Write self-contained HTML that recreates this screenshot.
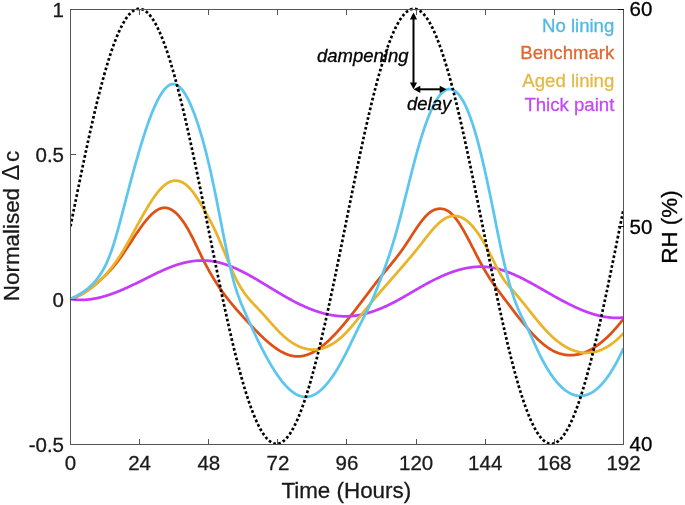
<!DOCTYPE html><html><head><meta charset="utf-8"><title>chart</title><style>
html,body{margin:0;padding:0;background:#fff}
#c{position:absolute;left:0;top:0;width:685px;height:505px;overflow:hidden;background:#fff;font-family:"Liberation Sans",sans-serif;color:#000;-webkit-text-stroke:0.3px currentColor;-webkit-font-smoothing:antialiased;will-change:transform}
.t{position:absolute;white-space:nowrap;line-height:1;font-size:20.5px;color:#1a1a1a}
.xt{transform:translateX(-50%);top:452.8px}
.yt{transform:translate(-100%,-50%);left:64px}
.rt{transform:translateY(-50%);left:629.5px;color:#000}
.lg{position:absolute;white-space:nowrap;line-height:1;font-size:18.6px;right:70.7px;text-align:right}
.an{position:absolute;white-space:nowrap;line-height:1;font-size:18.5px;font-style:italic;color:#000}
.al{position:absolute;white-space:nowrap;line-height:1;font-size:22.4px;color:#1a1a1a}
</style></head><body><div id="c">
<svg width="685" height="505" viewBox="0 0 685 505" style="position:absolute;left:0;top:0">
<defs><clipPath id="cp"><rect x="70.0" y="7.1" width="554.0" height="438.6"/></clipPath></defs>
<g clip-path="url(#cp)" fill="none" stroke-linejoin="round">
<path d="M70.50,299.00 L71.00,298.85 L71.50,298.69 L72.00,298.53 L72.50,298.35 L73.00,298.18 L73.50,297.99 L74.00,297.80 L74.50,297.61 L75.00,297.40 L75.50,297.19 L76.00,296.98 L76.50,296.76 L77.00,296.53 L77.50,296.30 L78.00,296.06 L78.50,295.82 L79.00,295.57 L79.50,295.31 L80.00,295.05 L80.50,294.78 L81.00,294.51 L81.50,294.23 L82.00,293.94 L82.50,293.65 L83.00,293.36 L83.50,293.06 L84.00,292.75 L84.50,292.44 L85.00,292.12 L85.50,291.80 L86.00,291.47 L86.50,291.14 L87.00,290.80 L87.50,290.46 L88.00,290.11 L88.50,289.76 L89.00,289.41 L89.50,289.04 L90.00,288.68 L90.50,288.31 L91.00,287.93 L91.50,287.55 L92.00,287.16 L92.50,286.77 L93.00,286.38 L93.50,285.98 L94.00,285.58 L94.50,285.17 L95.00,284.76 L95.50,284.34 L96.00,283.92 L96.50,283.50 L97.00,283.07 L97.50,282.63 L98.00,282.20 L98.50,281.76 L99.00,281.31 L99.50,280.86 L100.00,280.41 L100.50,279.95 L101.00,279.49 L101.50,279.03 L102.00,278.56 L102.50,278.09 L103.00,277.61 L103.50,277.13 L104.00,276.65 L104.50,276.17 L105.00,275.68 L105.50,275.18 L106.00,274.69 L106.50,274.18 L107.00,273.68 L107.50,273.17 L108.00,272.65 L108.50,272.13 L109.00,271.60 L109.50,271.07 L110.00,270.53 L110.50,269.99 L111.00,269.44 L111.50,268.88 L112.00,268.32 L112.50,267.75 L113.00,267.17 L113.50,266.59 L114.00,266.00 L114.50,265.40 L115.00,264.80 L115.50,264.19 L116.00,263.57 L116.50,262.94 L117.00,262.30 L117.50,261.65 L118.00,261.00 L118.50,260.34 L119.00,259.66 L119.50,258.98 L120.00,258.30 L120.50,257.60 L121.00,256.90 L121.50,256.19 L122.00,255.48 L122.50,254.76 L123.00,254.03 L123.50,253.30 L124.00,252.56 L124.50,251.82 L125.00,251.07 L125.50,250.33 L126.00,249.57 L126.50,248.82 L127.00,248.06 L127.50,247.30 L128.00,246.53 L128.50,245.77 L129.00,245.00 L129.50,244.23 L130.00,243.47 L130.50,242.70 L131.00,241.93 L131.50,241.16 L132.00,240.39 L132.50,239.63 L133.00,238.86 L133.50,238.10 L134.00,237.34 L134.50,236.58 L135.00,235.82 L135.50,235.07 L136.00,234.32 L136.50,233.58 L137.00,232.83 L137.50,232.10 L138.00,231.36 L138.50,230.63 L139.00,229.91 L139.50,229.19 L140.00,228.48 L140.50,227.78 L141.00,227.08 L141.50,226.39 L142.00,225.70 L142.50,225.03 L143.00,224.36 L143.50,223.70 L144.00,223.05 L144.50,222.41 L145.00,221.77 L145.50,221.15 L146.00,220.53 L146.50,219.93 L147.00,219.34 L147.50,218.75 L148.00,218.18 L148.50,217.62 L149.00,217.07 L149.50,216.54 L150.00,216.02 L150.50,215.50 L151.00,215.01 L151.50,214.52 L152.00,214.05 L152.50,213.60 L153.00,213.16 L153.50,212.73 L154.00,212.32 L154.50,211.92 L155.00,211.54 L155.50,211.18 L156.00,210.83 L156.50,210.50 L157.00,210.18 L157.50,209.89 L158.00,209.61 L158.50,209.35 L159.00,209.10 L159.50,208.88 L160.00,208.68 L160.50,208.49 L161.00,208.32 L161.50,208.18 L162.00,208.05 L162.50,207.95 L163.00,207.86 L163.50,207.80 L164.00,207.76 L164.50,207.74 L165.00,207.74 L165.50,207.77 L166.00,207.82 L166.50,207.88 L167.00,207.97 L167.50,208.09 L168.00,208.22 L168.50,208.37 L169.00,208.54 L169.50,208.74 L170.00,208.96 L170.50,209.19 L171.00,209.45 L171.50,209.72 L172.00,210.02 L172.50,210.34 L173.00,210.67 L173.50,211.03 L174.00,211.41 L174.50,211.80 L175.00,212.21 L175.50,212.65 L176.00,213.10 L176.50,213.57 L177.00,214.06 L177.50,214.57 L178.00,215.09 L178.50,215.64 L179.00,216.20 L179.50,216.78 L180.00,217.38 L180.50,218.00 L181.00,218.63 L181.50,219.28 L182.00,219.95 L182.50,220.64 L183.00,221.34 L183.50,222.06 L184.00,222.80 L184.50,223.55 L185.00,224.32 L185.50,225.10 L186.00,225.91 L186.50,226.72 L187.00,227.56 L187.50,228.41 L188.00,229.27 L188.50,230.15 L189.00,231.05 L189.50,231.96 L190.00,232.89 L190.50,233.83 L191.00,234.78 L191.50,235.75 L192.00,236.72 L192.50,237.71 L193.00,238.71 L193.50,239.72 L194.00,240.73 L194.50,241.75 L195.00,242.78 L195.50,243.81 L196.00,244.85 L196.50,245.89 L197.00,246.93 L197.50,247.98 L198.00,249.02 L198.50,250.07 L199.00,251.11 L199.50,252.16 L200.00,253.20 L200.50,254.23 L201.00,255.27 L201.50,256.29 L202.00,257.31 L202.50,258.33 L203.00,259.33 L203.50,260.33 L204.00,261.31 L204.50,262.29 L205.00,263.26 L205.50,264.22 L206.00,265.17 L206.50,266.11 L207.00,267.04 L207.50,267.96 L208.00,268.88 L208.50,269.78 L209.00,270.68 L209.50,271.57 L210.00,272.45 L210.50,273.32 L211.00,274.18 L211.50,275.04 L212.00,275.88 L212.50,276.72 L213.00,277.55 L213.50,278.37 L214.00,279.19 L214.50,279.99 L215.00,280.79 L215.50,281.58 L216.00,282.37 L216.50,283.14 L217.00,283.91 L217.50,284.67 L218.00,285.43 L218.50,286.18 L219.00,286.92 L219.50,287.65 L220.00,288.38 L220.50,289.10 L221.00,289.82 L221.50,290.53 L222.00,291.23 L222.50,291.93 L223.00,292.62 L223.50,293.30 L224.00,293.98 L224.50,294.66 L225.00,295.32 L225.50,295.99 L226.00,296.65 L226.50,297.30 L227.00,297.95 L227.50,298.59 L228.00,299.23 L228.50,299.87 L229.00,300.49 L229.50,301.12 L230.00,301.74 L230.50,302.36 L231.00,302.97 L231.50,303.58 L232.00,304.18 L232.50,304.79 L233.00,305.38 L233.50,305.98 L234.00,306.57 L234.50,307.15 L235.00,307.74 L235.50,308.32 L236.00,308.90 L236.50,309.47 L237.00,310.05 L237.50,310.62 L238.00,311.18 L238.50,311.75 L239.00,312.31 L239.50,312.87 L240.00,313.43 L240.50,313.99 L241.00,314.54 L241.50,315.10 L242.00,315.65 L242.50,316.20 L243.00,316.75 L243.50,317.30 L244.00,317.84 L244.50,318.39 L245.00,318.93 L245.50,319.48 L246.00,320.02 L246.50,320.56 L247.00,321.10 L247.50,321.64 L248.00,322.18 L248.50,322.72 L249.00,323.26 L249.50,323.80 L250.00,324.33 L250.50,324.87 L251.00,325.40 L251.50,325.93 L252.00,326.46 L252.50,326.99 L253.00,327.52 L253.50,328.05 L254.00,328.57 L254.50,329.09 L255.00,329.61 L255.50,330.13 L256.00,330.64 L256.50,331.15 L257.00,331.66 L257.50,332.17 L258.00,332.68 L258.50,333.18 L259.00,333.68 L259.50,334.17 L260.00,334.67 L260.50,335.16 L261.00,335.64 L261.50,336.13 L262.00,336.61 L262.50,337.08 L263.00,337.56 L263.50,338.03 L264.00,338.49 L264.50,338.96 L265.00,339.41 L265.50,339.87 L266.00,340.32 L266.50,340.76 L267.00,341.21 L267.50,341.64 L268.00,342.08 L268.50,342.50 L269.00,342.93 L269.50,343.35 L270.00,343.76 L270.50,344.17 L271.00,344.57 L271.50,344.97 L272.00,345.37 L272.50,345.76 L273.00,346.14 L273.50,346.52 L274.00,346.89 L274.50,347.26 L275.00,347.62 L275.50,347.97 L276.00,348.32 L276.50,348.66 L277.00,349.00 L277.50,349.33 L278.00,349.66 L278.50,349.97 L279.00,350.29 L279.50,350.59 L280.00,350.89 L280.50,351.18 L281.00,351.47 L281.50,351.74 L282.00,352.02 L282.50,352.28 L283.00,352.54 L283.50,352.79 L284.00,353.03 L284.50,353.26 L285.00,353.49 L285.50,353.71 L286.00,353.92 L286.50,354.12 L287.00,354.32 L287.50,354.51 L288.00,354.69 L288.50,354.86 L289.00,355.02 L289.50,355.18 L290.00,355.32 L290.50,355.46 L291.00,355.59 L291.50,355.71 L292.00,355.82 L292.50,355.93 L293.00,356.02 L293.50,356.11 L294.00,356.18 L294.50,356.25 L295.00,356.30 L295.50,356.35 L296.00,356.39 L296.50,356.42 L297.00,356.44 L297.50,356.44 L298.00,356.44 L298.50,356.43 L299.00,356.41 L299.50,356.38 L300.00,356.34 L300.50,356.29 L301.00,356.24 L301.50,356.17 L302.00,356.09 L302.50,356.00 L303.00,355.91 L303.50,355.81 L304.00,355.69 L304.50,355.57 L305.00,355.44 L305.50,355.30 L306.00,355.15 L306.50,355.00 L307.00,354.83 L307.50,354.66 L308.00,354.48 L308.50,354.28 L309.00,354.09 L309.50,353.88 L310.00,353.67 L310.50,353.44 L311.00,353.21 L311.50,352.97 L312.00,352.73 L312.50,352.47 L313.00,352.21 L313.50,351.94 L314.00,351.67 L314.50,351.38 L315.00,351.09 L315.50,350.79 L316.00,350.49 L316.50,350.17 L317.00,349.85 L317.50,349.53 L318.00,349.19 L318.50,348.85 L319.00,348.51 L319.50,348.15 L320.00,347.79 L320.50,347.42 L321.00,347.05 L321.50,346.67 L322.00,346.28 L322.50,345.89 L323.00,345.49 L323.50,345.08 L324.00,344.67 L324.50,344.26 L325.00,343.83 L325.50,343.40 L326.00,342.97 L326.50,342.53 L327.00,342.08 L327.50,341.63 L328.00,341.17 L328.50,340.71 L329.00,340.24 L329.50,339.77 L330.00,339.29 L330.50,338.81 L331.00,338.32 L331.50,337.82 L332.00,337.33 L332.50,336.82 L333.00,336.31 L333.50,335.80 L334.00,335.28 L334.50,334.76 L335.00,334.24 L335.50,333.71 L336.00,333.17 L336.50,332.63 L337.00,332.09 L337.50,331.54 L338.00,330.99 L338.50,330.43 L339.00,329.87 L339.50,329.31 L340.00,328.74 L340.50,328.17 L341.00,327.60 L341.50,327.02 L342.00,326.44 L342.50,325.85 L343.00,325.26 L343.50,324.67 L344.00,324.08 L344.50,323.48 L345.00,322.88 L345.50,322.27 L346.00,321.67 L346.50,321.06 L347.00,320.44 L347.50,319.83 L348.00,319.21 L348.50,318.59 L349.00,317.97 L349.50,317.34 L350.00,316.72 L350.50,316.09 L351.00,315.46 L351.50,314.82 L352.00,314.19 L352.50,313.55 L353.00,312.91 L353.50,312.27 L354.00,311.62 L354.50,310.98 L355.00,310.33 L355.50,309.69 L356.00,309.04 L356.50,308.39 L357.00,307.73 L357.50,307.08 L358.00,306.43 L358.50,305.77 L359.00,305.12 L359.50,304.46 L360.00,303.80 L360.50,303.14 L361.00,302.49 L361.50,301.83 L362.00,301.17 L362.50,300.51 L363.00,299.85 L363.50,299.18 L364.00,298.52 L364.50,297.86 L365.00,297.20 L365.50,296.54 L366.00,295.88 L366.50,295.22 L367.00,294.56 L367.50,293.90 L368.00,293.24 L368.50,292.58 L369.00,291.92 L369.50,291.26 L370.00,290.61 L370.50,289.95 L371.00,289.29 L371.50,288.64 L372.00,287.99 L372.50,287.33 L373.00,286.68 L373.50,286.03 L374.00,285.38 L374.50,284.74 L375.00,284.09 L375.50,283.45 L376.00,282.80 L376.50,282.16 L377.00,281.53 L377.50,280.89 L378.00,280.25 L378.50,279.62 L379.00,278.99 L379.50,278.36 L380.00,277.73 L380.50,277.11 L381.00,276.49 L381.50,275.87 L382.00,275.25 L382.50,274.64 L383.00,274.02 L383.50,273.41 L384.00,272.80 L384.50,272.20 L385.00,271.59 L385.50,270.98 L386.00,270.37 L386.50,269.77 L387.00,269.16 L387.50,268.56 L388.00,267.95 L388.50,267.35 L389.00,266.74 L389.50,266.13 L390.00,265.52 L390.50,264.91 L391.00,264.30 L391.50,263.69 L392.00,263.08 L392.50,262.46 L393.00,261.84 L393.50,261.22 L394.00,260.59 L394.50,259.97 L395.00,259.34 L395.50,258.70 L396.00,258.07 L396.50,257.43 L397.00,256.78 L397.50,256.13 L398.00,255.48 L398.50,254.82 L399.00,254.16 L399.50,253.49 L400.00,252.82 L400.50,252.14 L401.00,251.46 L401.50,250.77 L402.00,250.08 L402.50,249.38 L403.00,248.67 L403.50,247.95 L404.00,247.23 L404.50,246.50 L405.00,245.77 L405.50,245.03 L406.00,244.28 L406.50,243.53 L407.00,242.77 L407.50,242.01 L408.00,241.25 L408.50,240.48 L409.00,239.71 L409.50,238.94 L410.00,238.17 L410.50,237.39 L411.00,236.62 L411.50,235.85 L412.00,235.07 L412.50,234.30 L413.00,233.53 L413.50,232.77 L414.00,232.00 L414.50,231.24 L415.00,230.48 L415.50,229.73 L416.00,228.99 L416.50,228.24 L417.00,227.51 L417.50,226.78 L418.00,226.06 L418.50,225.35 L419.00,224.64 L419.50,223.95 L420.00,223.26 L420.50,222.59 L421.00,221.92 L421.50,221.27 L422.00,220.62 L422.50,219.99 L423.00,219.38 L423.50,218.77 L424.00,218.18 L424.50,217.60 L425.00,217.04 L425.50,216.50 L426.00,215.97 L426.50,215.45 L427.00,214.96 L427.50,214.48 L428.00,214.02 L428.50,213.58 L429.00,213.15 L429.50,212.75 L430.00,212.37 L430.50,212.01 L431.00,211.67 L431.50,211.34 L432.00,211.04 L432.50,210.76 L433.00,210.49 L433.50,210.25 L434.00,210.02 L434.50,209.82 L435.00,209.63 L435.50,209.46 L436.00,209.31 L436.50,209.17 L437.00,209.06 L437.50,208.96 L438.00,208.88 L438.50,208.81 L439.00,208.77 L439.50,208.74 L440.00,208.72 L440.50,208.73 L441.00,208.75 L441.50,208.78 L442.00,208.84 L442.50,208.92 L443.00,209.01 L443.50,209.12 L444.00,209.25 L444.50,209.40 L445.00,209.57 L445.50,209.76 L446.00,209.97 L446.50,210.21 L447.00,210.46 L447.50,210.73 L448.00,211.03 L448.50,211.34 L449.00,211.68 L449.50,212.04 L450.00,212.43 L450.50,212.84 L451.00,213.27 L451.50,213.72 L452.00,214.20 L452.50,214.70 L453.00,215.22 L453.50,215.77 L454.00,216.33 L454.50,216.92 L455.00,217.53 L455.50,218.15 L456.00,218.80 L456.50,219.46 L457.00,220.14 L457.50,220.84 L458.00,221.55 L458.50,222.29 L459.00,223.03 L459.50,223.80 L460.00,224.57 L460.50,225.37 L461.00,226.17 L461.50,226.99 L462.00,227.82 L462.50,228.66 L463.00,229.52 L463.50,230.39 L464.00,231.26 L464.50,232.15 L465.00,233.05 L465.50,233.95 L466.00,234.86 L466.50,235.79 L467.00,236.72 L467.50,237.65 L468.00,238.59 L468.50,239.54 L469.00,240.50 L469.50,241.45 L470.00,242.42 L470.50,243.38 L471.00,244.35 L471.50,245.32 L472.00,246.30 L472.50,247.27 L473.00,248.25 L473.50,249.23 L474.00,250.21 L474.50,251.18 L475.00,252.16 L475.50,253.13 L476.00,254.11 L476.50,255.08 L477.00,256.04 L477.50,257.01 L478.00,257.96 L478.50,258.92 L479.00,259.87 L479.50,260.81 L480.00,261.75 L480.50,262.68 L481.00,263.60 L481.50,264.52 L482.00,265.42 L482.50,266.32 L483.00,267.21 L483.50,268.09 L484.00,268.95 L484.50,269.81 L485.00,270.66 L485.50,271.50 L486.00,272.33 L486.50,273.16 L487.00,273.97 L487.50,274.78 L488.00,275.57 L488.50,276.36 L489.00,277.15 L489.50,277.92 L490.00,278.69 L490.50,279.45 L491.00,280.20 L491.50,280.95 L492.00,281.69 L492.50,282.43 L493.00,283.16 L493.50,283.88 L494.00,284.60 L494.50,285.32 L495.00,286.02 L495.50,286.73 L496.00,287.43 L496.50,288.13 L497.00,288.82 L497.50,289.51 L498.00,290.19 L498.50,290.87 L499.00,291.55 L499.50,292.23 L500.00,292.90 L500.50,293.57 L501.00,294.24 L501.50,294.91 L502.00,295.58 L502.50,296.24 L503.00,296.90 L503.50,297.57 L504.00,298.23 L504.50,298.89 L505.00,299.55 L505.50,300.21 L506.00,300.87 L506.50,301.53 L507.00,302.20 L507.50,302.86 L508.00,303.52 L508.50,304.18 L509.00,304.84 L509.50,305.50 L510.00,306.16 L510.50,306.82 L511.00,307.48 L511.50,308.14 L512.00,308.80 L512.50,309.46 L513.00,310.11 L513.50,310.77 L514.00,311.42 L514.50,312.07 L515.00,312.72 L515.50,313.37 L516.00,314.02 L516.50,314.66 L517.00,315.31 L517.50,315.95 L518.00,316.59 L518.50,317.23 L519.00,317.86 L519.50,318.50 L520.00,319.13 L520.50,319.75 L521.00,320.38 L521.50,321.00 L522.00,321.62 L522.50,322.24 L523.00,322.86 L523.50,323.47 L524.00,324.08 L524.50,324.68 L525.00,325.28 L525.50,325.88 L526.00,326.48 L526.50,327.07 L527.00,327.66 L527.50,328.24 L528.00,328.82 L528.50,329.39 L529.00,329.97 L529.50,330.53 L530.00,331.10 L530.50,331.66 L531.00,332.21 L531.50,332.76 L532.00,333.30 L532.50,333.84 L533.00,334.38 L533.50,334.91 L534.00,335.44 L534.50,335.96 L535.00,336.47 L535.50,336.98 L536.00,337.48 L536.50,337.98 L537.00,338.47 L537.50,338.96 L538.00,339.44 L538.50,339.92 L539.00,340.39 L539.50,340.85 L540.00,341.31 L540.50,341.76 L541.00,342.20 L541.50,342.64 L542.00,343.07 L542.50,343.49 L543.00,343.91 L543.50,344.32 L544.00,344.73 L544.50,345.12 L545.00,345.51 L545.50,345.89 L546.00,346.27 L546.50,346.64 L547.00,346.99 L547.50,347.35 L548.00,347.69 L548.50,348.03 L549.00,348.36 L549.50,348.68 L550.00,348.99 L550.50,349.29 L551.00,349.59 L551.50,349.88 L552.00,350.16 L552.50,350.43 L553.00,350.70 L553.50,350.95 L554.00,351.20 L554.50,351.45 L555.00,351.68 L555.50,351.91 L556.00,352.13 L556.50,352.34 L557.00,352.54 L557.50,352.74 L558.00,352.92 L558.50,353.10 L559.00,353.28 L559.50,353.44 L560.00,353.60 L560.50,353.75 L561.00,353.89 L561.50,354.03 L562.00,354.16 L562.50,354.28 L563.00,354.39 L563.50,354.50 L564.00,354.59 L564.50,354.69 L565.00,354.77 L565.50,354.84 L566.00,354.91 L566.50,354.97 L567.00,355.03 L567.50,355.08 L568.00,355.12 L568.50,355.15 L569.00,355.17 L569.50,355.19 L570.00,355.20 L570.50,355.21 L571.00,355.20 L571.50,355.19 L572.00,355.17 L572.50,355.15 L573.00,355.12 L573.50,355.08 L574.00,355.03 L574.50,354.98 L575.00,354.92 L575.50,354.85 L576.00,354.78 L576.50,354.70 L577.00,354.61 L577.50,354.52 L578.00,354.41 L578.50,354.31 L579.00,354.19 L579.50,354.07 L580.00,353.94 L580.50,353.81 L581.00,353.66 L581.50,353.51 L582.00,353.36 L582.50,353.20 L583.00,353.03 L583.50,352.85 L584.00,352.67 L584.50,352.48 L585.00,352.28 L585.50,352.08 L586.00,351.87 L586.50,351.66 L587.00,351.43 L587.50,351.21 L588.00,350.97 L588.50,350.73 L589.00,350.48 L589.50,350.23 L590.00,349.97 L590.50,349.70 L591.00,349.43 L591.50,349.15 L592.00,348.86 L592.50,348.57 L593.00,348.27 L593.50,347.96 L594.00,347.65 L594.50,347.33 L595.00,347.01 L595.50,346.68 L596.00,346.34 L596.50,346.00 L597.00,345.65 L597.50,345.30 L598.00,344.93 L598.50,344.57 L599.00,344.19 L599.50,343.81 L600.00,343.43 L600.50,343.04 L601.00,342.64 L601.50,342.24 L602.00,341.83 L602.50,341.41 L603.00,340.99 L603.50,340.56 L604.00,340.13 L604.50,339.69 L605.00,339.25 L605.50,338.80 L606.00,338.34 L606.50,337.88 L607.00,337.41 L607.50,336.93 L608.00,336.45 L608.50,335.97 L609.00,335.48 L609.50,334.98 L610.00,334.48 L610.50,333.97 L611.00,333.46 L611.50,332.94 L612.00,332.41 L612.50,331.88 L613.00,331.35 L613.50,330.80 L614.00,330.26 L614.50,329.70 L615.00,329.14 L615.50,328.58 L616.00,328.01 L616.50,327.44 L617.00,326.86 L617.50,326.27 L618.00,325.68 L618.50,325.08 L619.00,324.48 L619.50,323.88 L620.00,323.26 L620.50,322.65 L621.00,322.02 L621.50,321.40 L622.00,320.76 L622.50,320.12 L623.00,319.48 L623.50,318.83" stroke="#DE5016" stroke-width="2.75"/>
<path d="M70.50,298.98 L71.00,299.07 L71.50,299.15 L72.00,299.22 L72.50,299.30 L73.00,299.36 L73.50,299.43 L74.00,299.49 L74.50,299.54 L75.00,299.59 L75.50,299.64 L76.00,299.68 L76.50,299.72 L77.00,299.76 L77.50,299.79 L78.00,299.81 L78.50,299.84 L79.00,299.86 L79.50,299.87 L80.00,299.88 L80.50,299.89 L81.00,299.89 L81.50,299.89 L82.00,299.89 L82.50,299.88 L83.00,299.87 L83.50,299.85 L84.00,299.83 L84.50,299.81 L85.00,299.78 L85.50,299.75 L86.00,299.72 L86.50,299.68 L87.00,299.64 L87.50,299.60 L88.00,299.55 L88.50,299.50 L89.00,299.45 L89.50,299.39 L90.00,299.33 L90.50,299.27 L91.00,299.20 L91.50,299.13 L92.00,299.05 L92.50,298.98 L93.00,298.90 L93.50,298.81 L94.00,298.73 L94.50,298.64 L95.00,298.55 L95.50,298.45 L96.00,298.35 L96.50,298.25 L97.00,298.15 L97.50,298.04 L98.00,297.93 L98.50,297.82 L99.00,297.70 L99.50,297.58 L100.00,297.46 L100.50,297.34 L101.00,297.21 L101.50,297.09 L102.00,296.95 L102.50,296.82 L103.00,296.68 L103.50,296.54 L104.00,296.40 L104.50,296.26 L105.00,296.11 L105.50,295.96 L106.00,295.81 L106.50,295.66 L107.00,295.50 L107.50,295.34 L108.00,295.18 L108.50,295.02 L109.00,294.85 L109.50,294.68 L110.00,294.51 L110.50,294.34 L111.00,294.17 L111.50,293.99 L112.00,293.81 L112.50,293.63 L113.00,293.45 L113.50,293.27 L114.00,293.08 L114.50,292.89 L115.00,292.70 L115.50,292.51 L116.00,292.32 L116.50,292.12 L117.00,291.93 L117.50,291.73 L118.00,291.53 L118.50,291.32 L119.00,291.12 L119.50,290.92 L120.00,290.71 L120.50,290.50 L121.00,290.29 L121.50,290.08 L122.00,289.86 L122.50,289.65 L123.00,289.43 L123.50,289.22 L124.00,289.00 L124.50,288.78 L125.00,288.56 L125.50,288.33 L126.00,288.11 L126.50,287.88 L127.00,287.66 L127.50,287.43 L128.00,287.20 L128.50,286.97 L129.00,286.74 L129.50,286.51 L130.00,286.27 L130.50,286.04 L131.00,285.80 L131.50,285.57 L132.00,285.33 L132.50,285.09 L133.00,284.85 L133.50,284.62 L134.00,284.38 L134.50,284.13 L135.00,283.89 L135.50,283.65 L136.00,283.41 L136.50,283.16 L137.00,282.92 L137.50,282.67 L138.00,282.43 L138.50,282.18 L139.00,281.93 L139.50,281.69 L140.00,281.44 L140.50,281.19 L141.00,280.94 L141.50,280.69 L142.00,280.44 L142.50,280.20 L143.00,279.95 L143.50,279.70 L144.00,279.45 L144.50,279.20 L145.00,278.95 L145.50,278.70 L146.00,278.45 L146.50,278.20 L147.00,277.95 L147.50,277.70 L148.00,277.45 L148.50,277.20 L149.00,276.95 L149.50,276.70 L150.00,276.45 L150.50,276.21 L151.00,275.96 L151.50,275.71 L152.00,275.47 L152.50,275.22 L153.00,274.98 L153.50,274.73 L154.00,274.49 L154.50,274.25 L155.00,274.01 L155.50,273.77 L156.00,273.53 L156.50,273.29 L157.00,273.05 L157.50,272.81 L158.00,272.58 L158.50,272.34 L159.00,272.11 L159.50,271.87 L160.00,271.64 L160.50,271.41 L161.00,271.18 L161.50,270.96 L162.00,270.73 L162.50,270.51 L163.00,270.28 L163.50,270.06 L164.00,269.84 L164.50,269.62 L165.00,269.41 L165.50,269.19 L166.00,268.98 L166.50,268.77 L167.00,268.56 L167.50,268.35 L168.00,268.14 L168.50,267.94 L169.00,267.74 L169.50,267.54 L170.00,267.34 L170.50,267.15 L171.00,266.95 L171.50,266.76 L172.00,266.57 L172.50,266.38 L173.00,266.20 L173.50,266.02 L174.00,265.84 L174.50,265.66 L175.00,265.49 L175.50,265.31 L176.00,265.14 L176.50,264.98 L177.00,264.81 L177.50,264.65 L178.00,264.49 L178.50,264.34 L179.00,264.18 L179.50,264.03 L180.00,263.88 L180.50,263.74 L181.00,263.60 L181.50,263.46 L182.00,263.32 L182.50,263.19 L183.00,263.06 L183.50,262.94 L184.00,262.81 L184.50,262.69 L185.00,262.57 L185.50,262.46 L186.00,262.35 L186.50,262.24 L187.00,262.14 L187.50,262.03 L188.00,261.94 L188.50,261.84 L189.00,261.75 L189.50,261.66 L190.00,261.57 L190.50,261.49 L191.00,261.41 L191.50,261.33 L192.00,261.26 L192.50,261.19 L193.00,261.13 L193.50,261.06 L194.00,261.00 L194.50,260.95 L195.00,260.89 L195.50,260.84 L196.00,260.80 L196.50,260.75 L197.00,260.71 L197.50,260.68 L198.00,260.65 L198.50,260.62 L199.00,260.59 L199.50,260.57 L200.00,260.55 L200.50,260.53 L201.00,260.52 L201.50,260.51 L202.00,260.51 L202.50,260.51 L203.00,260.51 L203.50,260.52 L204.00,260.53 L204.50,260.54 L205.00,260.55 L205.50,260.57 L206.00,260.60 L206.50,260.63 L207.00,260.66 L207.50,260.69 L208.00,260.73 L208.50,260.77 L209.00,260.82 L209.50,260.87 L210.00,260.92 L210.50,260.98 L211.00,261.04 L211.50,261.10 L212.00,261.17 L212.50,261.25 L213.00,261.32 L213.50,261.40 L214.00,261.48 L214.50,261.57 L215.00,261.66 L215.50,261.76 L216.00,261.86 L216.50,261.96 L217.00,262.07 L217.50,262.18 L218.00,262.29 L218.50,262.41 L219.00,262.53 L219.50,262.66 L220.00,262.79 L220.50,262.92 L221.00,263.05 L221.50,263.19 L222.00,263.34 L222.50,263.48 L223.00,263.63 L223.50,263.78 L224.00,263.94 L224.50,264.10 L225.00,264.26 L225.50,264.43 L226.00,264.60 L226.50,264.77 L227.00,264.94 L227.50,265.12 L228.00,265.30 L228.50,265.49 L229.00,265.67 L229.50,265.86 L230.00,266.05 L230.50,266.25 L231.00,266.45 L231.50,266.65 L232.00,266.85 L232.50,267.06 L233.00,267.27 L233.50,267.48 L234.00,267.69 L234.50,267.91 L235.00,268.13 L235.50,268.35 L236.00,268.57 L236.50,268.80 L237.00,269.03 L237.50,269.26 L238.00,269.49 L238.50,269.73 L239.00,269.97 L239.50,270.21 L240.00,270.45 L240.50,270.69 L241.00,270.94 L241.50,271.19 L242.00,271.44 L242.50,271.69 L243.00,271.94 L243.50,272.20 L244.00,272.46 L244.50,272.71 L245.00,272.98 L245.50,273.24 L246.00,273.50 L246.50,273.77 L247.00,274.04 L247.50,274.31 L248.00,274.58 L248.50,274.85 L249.00,275.13 L249.50,275.40 L250.00,275.68 L250.50,275.96 L251.00,276.24 L251.50,276.52 L252.00,276.80 L252.50,277.08 L253.00,277.37 L253.50,277.65 L254.00,277.94 L254.50,278.23 L255.00,278.52 L255.50,278.81 L256.00,279.10 L256.50,279.39 L257.00,279.69 L257.50,279.98 L258.00,280.28 L258.50,280.57 L259.00,280.87 L259.50,281.16 L260.00,281.46 L260.50,281.76 L261.00,282.06 L261.50,282.36 L262.00,282.66 L262.50,282.96 L263.00,283.26 L263.50,283.56 L264.00,283.87 L264.50,284.17 L265.00,284.47 L265.50,284.78 L266.00,285.08 L266.50,285.38 L267.00,285.69 L267.50,285.99 L268.00,286.29 L268.50,286.60 L269.00,286.90 L269.50,287.21 L270.00,287.51 L270.50,287.82 L271.00,288.12 L271.50,288.43 L272.00,288.73 L272.50,289.03 L273.00,289.34 L273.50,289.64 L274.00,289.94 L274.50,290.25 L275.00,290.55 L275.50,290.85 L276.00,291.15 L276.50,291.45 L277.00,291.75 L277.50,292.05 L278.00,292.35 L278.50,292.65 L279.00,292.95 L279.50,293.25 L280.00,293.54 L280.50,293.84 L281.00,294.13 L281.50,294.43 L282.00,294.72 L282.50,295.01 L283.00,295.30 L283.50,295.59 L284.00,295.88 L284.50,296.17 L285.00,296.46 L285.50,296.75 L286.00,297.03 L286.50,297.31 L287.00,297.60 L287.50,297.88 L288.00,298.16 L288.50,298.44 L289.00,298.71 L289.50,298.99 L290.00,299.27 L290.50,299.54 L291.00,299.81 L291.50,300.08 L292.00,300.35 L292.50,300.61 L293.00,300.88 L293.50,301.14 L294.00,301.41 L294.50,301.67 L295.00,301.92 L295.50,302.18 L296.00,302.44 L296.50,302.69 L297.00,302.94 L297.50,303.19 L298.00,303.44 L298.50,303.69 L299.00,303.93 L299.50,304.17 L300.00,304.41 L300.50,304.65 L301.00,304.89 L301.50,305.12 L302.00,305.36 L302.50,305.59 L303.00,305.82 L303.50,306.05 L304.00,306.27 L304.50,306.50 L305.00,306.72 L305.50,306.94 L306.00,307.15 L306.50,307.37 L307.00,307.58 L307.50,307.79 L308.00,308.00 L308.50,308.21 L309.00,308.41 L309.50,308.62 L310.00,308.82 L310.50,309.01 L311.00,309.21 L311.50,309.40 L312.00,309.59 L312.50,309.78 L313.00,309.97 L313.50,310.16 L314.00,310.34 L314.50,310.52 L315.00,310.69 L315.50,310.87 L316.00,311.04 L316.50,311.21 L317.00,311.38 L317.50,311.55 L318.00,311.71 L318.50,311.87 L319.00,312.03 L319.50,312.18 L320.00,312.33 L320.50,312.48 L321.00,312.63 L321.50,312.78 L322.00,312.92 L322.50,313.06 L323.00,313.20 L323.50,313.33 L324.00,313.46 L324.50,313.59 L325.00,313.72 L325.50,313.84 L326.00,313.96 L326.50,314.08 L327.00,314.20 L327.50,314.31 L328.00,314.42 L328.50,314.53 L329.00,314.63 L329.50,314.73 L330.00,314.83 L330.50,314.92 L331.00,315.02 L331.50,315.11 L332.00,315.19 L332.50,315.28 L333.00,315.36 L333.50,315.44 L334.00,315.51 L334.50,315.58 L335.00,315.65 L335.50,315.72 L336.00,315.78 L336.50,315.84 L337.00,315.89 L337.50,315.95 L338.00,316.00 L338.50,316.04 L339.00,316.09 L339.50,316.13 L340.00,316.16 L340.50,316.20 L341.00,316.23 L341.50,316.25 L342.00,316.28 L342.50,316.30 L343.00,316.32 L343.50,316.33 L344.00,316.34 L344.50,316.35 L345.00,316.35 L345.50,316.35 L346.00,316.35 L346.50,316.34 L347.00,316.33 L347.50,316.32 L348.00,316.30 L348.50,316.28 L349.00,316.26 L349.50,316.23 L350.00,316.20 L350.50,316.16 L351.00,316.13 L351.50,316.09 L352.00,316.04 L352.50,315.99 L353.00,315.94 L353.50,315.89 L354.00,315.83 L354.50,315.77 L355.00,315.71 L355.50,315.64 L356.00,315.57 L356.50,315.49 L357.00,315.42 L357.50,315.34 L358.00,315.25 L358.50,315.17 L359.00,315.08 L359.50,314.98 L360.00,314.89 L360.50,314.79 L361.00,314.69 L361.50,314.58 L362.00,314.48 L362.50,314.37 L363.00,314.25 L363.50,314.14 L364.00,314.02 L364.50,313.89 L365.00,313.77 L365.50,313.64 L366.00,313.51 L366.50,313.38 L367.00,313.24 L367.50,313.10 L368.00,312.96 L368.50,312.81 L369.00,312.67 L369.50,312.52 L370.00,312.36 L370.50,312.21 L371.00,312.05 L371.50,311.89 L372.00,311.73 L372.50,311.56 L373.00,311.39 L373.50,311.22 L374.00,311.05 L374.50,310.87 L375.00,310.69 L375.50,310.51 L376.00,310.33 L376.50,310.14 L377.00,309.95 L377.50,309.76 L378.00,309.57 L378.50,309.37 L379.00,309.18 L379.50,308.98 L380.00,308.77 L380.50,308.57 L381.00,308.36 L381.50,308.15 L382.00,307.94 L382.50,307.73 L383.00,307.51 L383.50,307.29 L384.00,307.07 L384.50,306.85 L385.00,306.63 L385.50,306.40 L386.00,306.17 L386.50,305.94 L387.00,305.71 L387.50,305.48 L388.00,305.24 L388.50,305.00 L389.00,304.76 L389.50,304.52 L390.00,304.27 L390.50,304.03 L391.00,303.78 L391.50,303.53 L392.00,303.28 L392.50,303.02 L393.00,302.77 L393.50,302.51 L394.00,302.25 L394.50,301.99 L395.00,301.73 L395.50,301.46 L396.00,301.20 L396.50,300.93 L397.00,300.66 L397.50,300.39 L398.00,300.12 L398.50,299.84 L399.00,299.57 L399.50,299.29 L400.00,299.02 L400.50,298.74 L401.00,298.46 L401.50,298.18 L402.00,297.90 L402.50,297.62 L403.00,297.33 L403.50,297.05 L404.00,296.76 L404.50,296.48 L405.00,296.19 L405.50,295.90 L406.00,295.62 L406.50,295.33 L407.00,295.04 L407.50,294.75 L408.00,294.46 L408.50,294.17 L409.00,293.88 L409.50,293.59 L410.00,293.30 L410.50,293.00 L411.00,292.71 L411.50,292.42 L412.00,292.13 L412.50,291.84 L413.00,291.54 L413.50,291.25 L414.00,290.96 L414.50,290.67 L415.00,290.37 L415.50,290.08 L416.00,289.79 L416.50,289.50 L417.00,289.21 L417.50,288.92 L418.00,288.63 L418.50,288.34 L419.00,288.05 L419.50,287.76 L420.00,287.48 L420.50,287.19 L421.00,286.90 L421.50,286.62 L422.00,286.33 L422.50,286.05 L423.00,285.77 L423.50,285.48 L424.00,285.20 L424.50,284.92 L425.00,284.64 L425.50,284.37 L426.00,284.09 L426.50,283.82 L427.00,283.54 L427.50,283.27 L428.00,283.00 L428.50,282.73 L429.00,282.46 L429.50,282.19 L430.00,281.93 L430.50,281.66 L431.00,281.40 L431.50,281.14 L432.00,280.88 L432.50,280.62 L433.00,280.37 L433.50,280.12 L434.00,279.86 L434.50,279.61 L435.00,279.36 L435.50,279.12 L436.00,278.87 L436.50,278.63 L437.00,278.39 L437.50,278.15 L438.00,277.91 L438.50,277.67 L439.00,277.44 L439.50,277.21 L440.00,276.98 L440.50,276.75 L441.00,276.52 L441.50,276.30 L442.00,276.08 L442.50,275.86 L443.00,275.64 L443.50,275.42 L444.00,275.21 L444.50,275.00 L445.00,274.79 L445.50,274.58 L446.00,274.38 L446.50,274.17 L447.00,273.97 L447.50,273.77 L448.00,273.58 L448.50,273.38 L449.00,273.19 L449.50,273.00 L450.00,272.82 L450.50,272.63 L451.00,272.45 L451.50,272.27 L452.00,272.09 L452.50,271.92 L453.00,271.75 L453.50,271.58 L454.00,271.41 L454.50,271.24 L455.00,271.08 L455.50,270.92 L456.00,270.77 L456.50,270.61 L457.00,270.46 L457.50,270.31 L458.00,270.16 L458.50,270.02 L459.00,269.88 L459.50,269.74 L460.00,269.61 L460.50,269.47 L461.00,269.34 L461.50,269.22 L462.00,269.09 L462.50,268.97 L463.00,268.85 L463.50,268.74 L464.00,268.62 L464.50,268.51 L465.00,268.41 L465.50,268.30 L466.00,268.20 L466.50,268.10 L467.00,268.01 L467.50,267.92 L468.00,267.83 L468.50,267.74 L469.00,267.66 L469.50,267.58 L470.00,267.51 L470.50,267.43 L471.00,267.36 L471.50,267.30 L472.00,267.23 L472.50,267.17 L473.00,267.12 L473.50,267.07 L474.00,267.02 L474.50,266.97 L475.00,266.93 L475.50,266.89 L476.00,266.85 L476.50,266.82 L477.00,266.79 L477.50,266.76 L478.00,266.74 L478.50,266.72 L479.00,266.70 L479.50,266.69 L480.00,266.68 L480.50,266.68 L481.00,266.68 L481.50,266.68 L482.00,266.68 L482.50,266.69 L483.00,266.71 L483.50,266.73 L484.00,266.75 L484.50,266.77 L485.00,266.80 L485.50,266.83 L486.00,266.87 L486.50,266.91 L487.00,266.95 L487.50,267.00 L488.00,267.05 L488.50,267.11 L489.00,267.16 L489.50,267.23 L490.00,267.30 L490.50,267.37 L491.00,267.44 L491.50,267.52 L492.00,267.60 L492.50,267.69 L493.00,267.78 L493.50,267.88 L494.00,267.97 L494.50,268.08 L495.00,268.18 L495.50,268.29 L496.00,268.40 L496.50,268.52 L497.00,268.64 L497.50,268.76 L498.00,268.89 L498.50,269.02 L499.00,269.15 L499.50,269.29 L500.00,269.43 L500.50,269.57 L501.00,269.72 L501.50,269.87 L502.00,270.02 L502.50,270.18 L503.00,270.34 L503.50,270.50 L504.00,270.67 L504.50,270.84 L505.00,271.01 L505.50,271.18 L506.00,271.36 L506.50,271.54 L507.00,271.72 L507.50,271.90 L508.00,272.09 L508.50,272.28 L509.00,272.48 L509.50,272.67 L510.00,272.87 L510.50,273.07 L511.00,273.28 L511.50,273.48 L512.00,273.69 L512.50,273.90 L513.00,274.11 L513.50,274.33 L514.00,274.55 L514.50,274.77 L515.00,274.99 L515.50,275.21 L516.00,275.44 L516.50,275.67 L517.00,275.90 L517.50,276.13 L518.00,276.37 L518.50,276.60 L519.00,276.84 L519.50,277.08 L520.00,277.32 L520.50,277.57 L521.00,277.81 L521.50,278.06 L522.00,278.31 L522.50,278.56 L523.00,278.81 L523.50,279.07 L524.00,279.32 L524.50,279.58 L525.00,279.84 L525.50,280.10 L526.00,280.36 L526.50,280.62 L527.00,280.89 L527.50,281.15 L528.00,281.42 L528.50,281.69 L529.00,281.95 L529.50,282.22 L530.00,282.50 L530.50,282.77 L531.00,283.04 L531.50,283.31 L532.00,283.59 L532.50,283.87 L533.00,284.14 L533.50,284.42 L534.00,284.70 L534.50,284.98 L535.00,285.26 L535.50,285.54 L536.00,285.82 L536.50,286.10 L537.00,286.39 L537.50,286.67 L538.00,286.95 L538.50,287.24 L539.00,287.52 L539.50,287.81 L540.00,288.09 L540.50,288.38 L541.00,288.66 L541.50,288.95 L542.00,289.24 L542.50,289.52 L543.00,289.81 L543.50,290.10 L544.00,290.38 L544.50,290.67 L545.00,290.96 L545.50,291.24 L546.00,291.53 L546.50,291.82 L547.00,292.10 L547.50,292.39 L548.00,292.68 L548.50,292.96 L549.00,293.25 L549.50,293.53 L550.00,293.82 L550.50,294.10 L551.00,294.39 L551.50,294.67 L552.00,294.95 L552.50,295.24 L553.00,295.52 L553.50,295.80 L554.00,296.08 L554.50,296.36 L555.00,296.64 L555.50,296.92 L556.00,297.20 L556.50,297.48 L557.00,297.75 L557.50,298.03 L558.00,298.31 L558.50,298.58 L559.00,298.85 L559.50,299.13 L560.00,299.40 L560.50,299.67 L561.00,299.94 L561.50,300.21 L562.00,300.48 L562.50,300.74 L563.00,301.01 L563.50,301.27 L564.00,301.54 L564.50,301.80 L565.00,302.06 L565.50,302.32 L566.00,302.58 L566.50,302.84 L567.00,303.09 L567.50,303.35 L568.00,303.60 L568.50,303.86 L569.00,304.11 L569.50,304.36 L570.00,304.61 L570.50,304.85 L571.00,305.10 L571.50,305.34 L572.00,305.58 L572.50,305.83 L573.00,306.06 L573.50,306.30 L574.00,306.54 L574.50,306.77 L575.00,307.01 L575.50,307.24 L576.00,307.47 L576.50,307.69 L577.00,307.92 L577.50,308.14 L578.00,308.36 L578.50,308.58 L579.00,308.80 L579.50,309.02 L580.00,309.23 L580.50,309.45 L581.00,309.66 L581.50,309.86 L582.00,310.07 L582.50,310.27 L583.00,310.48 L583.50,310.68 L584.00,310.87 L584.50,311.07 L585.00,311.26 L585.50,311.46 L586.00,311.64 L586.50,311.83 L587.00,312.02 L587.50,312.20 L588.00,312.38 L588.50,312.55 L589.00,312.73 L589.50,312.90 L590.00,313.07 L590.50,313.24 L591.00,313.40 L591.50,313.57 L592.00,313.73 L592.50,313.88 L593.00,314.04 L593.50,314.19 L594.00,314.34 L594.50,314.48 L595.00,314.63 L595.50,314.77 L596.00,314.91 L596.50,315.04 L597.00,315.18 L597.50,315.31 L598.00,315.43 L598.50,315.56 L599.00,315.68 L599.50,315.79 L600.00,315.91 L600.50,316.02 L601.00,316.13 L601.50,316.24 L602.00,316.34 L602.50,316.44 L603.00,316.54 L603.50,316.63 L604.00,316.72 L604.50,316.81 L605.00,316.89 L605.50,316.97 L606.00,317.05 L606.50,317.12 L607.00,317.19 L607.50,317.26 L608.00,317.32 L608.50,317.38 L609.00,317.44 L609.50,317.49 L610.00,317.54 L610.50,317.59 L611.00,317.63 L611.50,317.67 L612.00,317.70 L612.50,317.74 L613.00,317.76 L613.50,317.79 L614.00,317.81 L614.50,317.82 L615.00,317.84 L615.50,317.85 L616.00,317.85 L616.50,317.85 L617.00,317.85 L617.50,317.85 L618.00,317.84 L618.50,317.82 L619.00,317.80 L619.50,317.78 L620.00,317.75 L620.50,317.72 L621.00,317.69 L621.50,317.65 L622.00,317.61 L622.50,317.56 L623.00,317.51 L623.50,317.46" stroke="#C43CF8" stroke-width="2.75"/>
<path d="M70.50,299.00 L71.00,298.82 L71.50,298.64 L72.00,298.46 L72.50,298.27 L73.00,298.08 L73.50,297.88 L74.00,297.68 L74.50,297.47 L75.00,297.26 L75.50,297.05 L76.00,296.83 L76.50,296.61 L77.00,296.38 L77.50,296.15 L78.00,295.92 L78.50,295.68 L79.00,295.44 L79.50,295.19 L80.00,294.93 L80.50,294.68 L81.00,294.41 L81.50,294.15 L82.00,293.88 L82.50,293.60 L83.00,293.32 L83.50,293.03 L84.00,292.74 L84.50,292.44 L85.00,292.14 L85.50,291.83 L86.00,291.52 L86.50,291.21 L87.00,290.88 L87.50,290.56 L88.00,290.22 L88.50,289.88 L89.00,289.54 L89.50,289.19 L90.00,288.84 L90.50,288.48 L91.00,288.11 L91.50,287.74 L92.00,287.36 L92.50,286.98 L93.00,286.59 L93.50,286.20 L94.00,285.79 L94.50,285.39 L95.00,284.98 L95.50,284.56 L96.00,284.13 L96.50,283.70 L97.00,283.26 L97.50,282.82 L98.00,282.37 L98.50,281.92 L99.00,281.45 L99.50,280.99 L100.00,280.51 L100.50,280.03 L101.00,279.54 L101.50,279.05 L102.00,278.55 L102.50,278.04 L103.00,277.52 L103.50,277.00 L104.00,276.47 L104.50,275.94 L105.00,275.40 L105.50,274.85 L106.00,274.29 L106.50,273.73 L107.00,273.16 L107.50,272.58 L108.00,272.00 L108.50,271.40 L109.00,270.81 L109.50,270.20 L110.00,269.59 L110.50,268.96 L111.00,268.34 L111.50,267.70 L112.00,267.06 L112.50,266.40 L113.00,265.74 L113.50,265.08 L114.00,264.40 L114.50,263.72 L115.00,263.03 L115.50,262.33 L116.00,261.63 L116.50,260.91 L117.00,260.19 L117.50,259.46 L118.00,258.72 L118.50,257.98 L119.00,257.22 L119.50,256.46 L120.00,255.69 L120.50,254.91 L121.00,254.12 L121.50,253.32 L122.00,252.52 L122.50,251.71 L123.00,250.88 L123.50,250.06 L124.00,249.22 L124.50,248.38 L125.00,247.53 L125.50,246.67 L126.00,245.81 L126.50,244.94 L127.00,244.07 L127.50,243.19 L128.00,242.31 L128.50,241.42 L129.00,240.53 L129.50,239.63 L130.00,238.73 L130.50,237.83 L131.00,236.92 L131.50,236.01 L132.00,235.10 L132.50,234.19 L133.00,233.27 L133.50,232.36 L134.00,231.44 L134.50,230.52 L135.00,229.60 L135.50,228.68 L136.00,227.76 L136.50,226.84 L137.00,225.92 L137.50,225.01 L138.00,224.09 L138.50,223.17 L139.00,222.26 L139.50,221.35 L140.00,220.44 L140.50,219.53 L141.00,218.63 L141.50,217.73 L142.00,216.84 L142.50,215.94 L143.00,215.06 L143.50,214.17 L144.00,213.29 L144.50,212.42 L145.00,211.55 L145.50,210.69 L146.00,209.84 L146.50,208.99 L147.00,208.14 L147.50,207.31 L148.00,206.48 L148.50,205.66 L149.00,204.84 L149.50,204.04 L150.00,203.24 L150.50,202.45 L151.00,201.68 L151.50,200.91 L152.00,200.15 L152.50,199.40 L153.00,198.66 L153.50,197.93 L154.00,197.21 L154.50,196.51 L155.00,195.81 L155.50,195.13 L156.00,194.46 L156.50,193.80 L157.00,193.15 L157.50,192.52 L158.00,191.90 L158.50,191.30 L159.00,190.71 L159.50,190.13 L160.00,189.57 L160.50,189.02 L161.00,188.49 L161.50,187.97 L162.00,187.47 L162.50,186.98 L163.00,186.51 L163.50,186.06 L164.00,185.62 L164.50,185.21 L165.00,184.81 L165.50,184.42 L166.00,184.06 L166.50,183.71 L167.00,183.39 L167.50,183.08 L168.00,182.79 L168.50,182.51 L169.00,182.26 L169.50,182.02 L170.00,181.80 L170.50,181.61 L171.00,181.43 L171.50,181.26 L172.00,181.12 L172.50,180.99 L173.00,180.89 L173.50,180.80 L174.00,180.73 L174.50,180.68 L175.00,180.65 L175.50,180.64 L176.00,180.64 L176.50,180.67 L177.00,180.71 L177.50,180.77 L178.00,180.86 L178.50,180.96 L179.00,181.07 L179.50,181.21 L180.00,181.37 L180.50,181.55 L181.00,181.74 L181.50,181.96 L182.00,182.19 L182.50,182.44 L183.00,182.71 L183.50,183.00 L184.00,183.32 L184.50,183.64 L185.00,183.99 L185.50,184.36 L186.00,184.75 L186.50,185.16 L187.00,185.58 L187.50,186.03 L188.00,186.49 L188.50,186.98 L189.00,187.48 L189.50,188.00 L190.00,188.54 L190.50,189.10 L191.00,189.68 L191.50,190.28 L192.00,190.89 L192.50,191.52 L193.00,192.17 L193.50,192.83 L194.00,193.51 L194.50,194.20 L195.00,194.91 L195.50,195.63 L196.00,196.37 L196.50,197.12 L197.00,197.87 L197.50,198.65 L198.00,199.43 L198.50,200.22 L199.00,201.02 L199.50,201.84 L200.00,202.66 L200.50,203.49 L201.00,204.33 L201.50,205.18 L202.00,206.03 L202.50,206.89 L203.00,207.76 L203.50,208.63 L204.00,209.50 L204.50,210.38 L205.00,211.27 L205.50,212.16 L206.00,213.05 L206.50,213.95 L207.00,214.85 L207.50,215.75 L208.00,216.66 L208.50,217.58 L209.00,218.50 L209.50,219.43 L210.00,220.37 L210.50,221.32 L211.00,222.27 L211.50,223.24 L212.00,224.21 L212.50,225.20 L213.00,226.19 L213.50,227.20 L214.00,228.21 L214.50,229.24 L215.00,230.29 L215.50,231.34 L216.00,232.41 L216.50,233.49 L217.00,234.59 L217.50,235.70 L218.00,236.83 L218.50,237.97 L219.00,239.12 L219.50,240.29 L220.00,241.46 L220.50,242.65 L221.00,243.84 L221.50,245.04 L222.00,246.25 L222.50,247.46 L223.00,248.68 L223.50,249.90 L224.00,251.12 L224.50,252.34 L225.00,253.57 L225.50,254.79 L226.00,256.01 L226.50,257.23 L227.00,258.45 L227.50,259.66 L228.00,260.86 L228.50,262.06 L229.00,263.25 L229.50,264.44 L230.00,265.61 L230.50,266.78 L231.00,267.93 L231.50,269.08 L232.00,270.21 L232.50,271.33 L233.00,272.44 L233.50,273.53 L234.00,274.61 L234.50,275.68 L235.00,276.73 L235.50,277.77 L236.00,278.79 L236.50,279.79 L237.00,280.78 L237.50,281.74 L238.00,282.69 L238.50,283.62 L239.00,284.53 L239.50,285.42 L240.00,286.28 L240.50,287.13 L241.00,287.95 L241.50,288.76 L242.00,289.55 L242.50,290.32 L243.00,291.07 L243.50,291.80 L244.00,292.52 L244.50,293.22 L245.00,293.91 L245.50,294.58 L246.00,295.24 L246.50,295.89 L247.00,296.52 L247.50,297.14 L248.00,297.75 L248.50,298.35 L249.00,298.94 L249.50,299.52 L250.00,300.10 L250.50,300.66 L251.00,301.22 L251.50,301.77 L252.00,302.31 L252.50,302.85 L253.00,303.38 L253.50,303.91 L254.00,304.44 L254.50,304.96 L255.00,305.48 L255.50,306.00 L256.00,306.52 L256.50,307.03 L257.00,307.55 L257.50,308.07 L258.00,308.59 L258.50,309.11 L259.00,309.64 L259.50,310.17 L260.00,310.70 L260.50,311.24 L261.00,311.78 L261.50,312.32 L262.00,312.87 L262.50,313.42 L263.00,313.97 L263.50,314.53 L264.00,315.08 L264.50,315.64 L265.00,316.21 L265.50,316.77 L266.00,317.33 L266.50,317.90 L267.00,318.47 L267.50,319.03 L268.00,319.60 L268.50,320.17 L269.00,320.73 L269.50,321.30 L270.00,321.87 L270.50,322.43 L271.00,323.00 L271.50,323.56 L272.00,324.12 L272.50,324.68 L273.00,325.23 L273.50,325.79 L274.00,326.34 L274.50,326.89 L275.00,327.44 L275.50,327.98 L276.00,328.52 L276.50,329.05 L277.00,329.58 L277.50,330.11 L278.00,330.63 L278.50,331.15 L279.00,331.66 L279.50,332.16 L280.00,332.66 L280.50,333.16 L281.00,333.65 L281.50,334.13 L282.00,334.61 L282.50,335.07 L283.00,335.54 L283.50,335.99 L284.00,336.44 L284.50,336.88 L285.00,337.31 L285.50,337.74 L286.00,338.15 L286.50,338.56 L287.00,338.97 L287.50,339.36 L288.00,339.75 L288.50,340.13 L289.00,340.51 L289.50,340.87 L290.00,341.23 L290.50,341.59 L291.00,341.93 L291.50,342.27 L292.00,342.60 L292.50,342.92 L293.00,343.23 L293.50,343.54 L294.00,343.84 L294.50,344.13 L295.00,344.42 L295.50,344.70 L296.00,344.97 L296.50,345.23 L297.00,345.49 L297.50,345.73 L298.00,345.97 L298.50,346.21 L299.00,346.43 L299.50,346.65 L300.00,346.86 L300.50,347.06 L301.00,347.26 L301.50,347.44 L302.00,347.62 L302.50,347.80 L303.00,347.96 L303.50,348.12 L304.00,348.27 L304.50,348.41 L305.00,348.54 L305.50,348.67 L306.00,348.79 L306.50,348.90 L307.00,349.00 L307.50,349.10 L308.00,349.18 L308.50,349.26 L309.00,349.34 L309.50,349.40 L310.00,349.46 L310.50,349.51 L311.00,349.55 L311.50,349.58 L312.00,349.61 L312.50,349.63 L313.00,349.64 L313.50,349.64 L314.00,349.64 L314.50,349.62 L315.00,349.60 L315.50,349.57 L316.00,349.54 L316.50,349.49 L317.00,349.44 L317.50,349.38 L318.00,349.31 L318.50,349.24 L319.00,349.15 L319.50,349.06 L320.00,348.96 L320.50,348.85 L321.00,348.74 L321.50,348.62 L322.00,348.48 L322.50,348.34 L323.00,348.20 L323.50,348.04 L324.00,347.88 L324.50,347.71 L325.00,347.53 L325.50,347.34 L326.00,347.15 L326.50,346.94 L327.00,346.73 L327.50,346.51 L328.00,346.29 L328.50,346.05 L329.00,345.81 L329.50,345.56 L330.00,345.30 L330.50,345.03 L331.00,344.75 L331.50,344.47 L332.00,344.18 L332.50,343.88 L333.00,343.57 L333.50,343.25 L334.00,342.93 L334.50,342.60 L335.00,342.26 L335.50,341.91 L336.00,341.55 L336.50,341.18 L337.00,340.81 L337.50,340.43 L338.00,340.04 L338.50,339.64 L339.00,339.23 L339.50,338.82 L340.00,338.40 L340.50,337.97 L341.00,337.53 L341.50,337.08 L342.00,336.62 L342.50,336.16 L343.00,335.69 L343.50,335.21 L344.00,334.72 L344.50,334.23 L345.00,333.73 L345.50,333.22 L346.00,332.70 L346.50,332.18 L347.00,331.65 L347.50,331.12 L348.00,330.58 L348.50,330.03 L349.00,329.48 L349.50,328.93 L350.00,328.36 L350.50,327.80 L351.00,327.23 L351.50,326.65 L352.00,326.07 L352.50,325.49 L353.00,324.90 L353.50,324.31 L354.00,323.72 L354.50,323.12 L355.00,322.52 L355.50,321.91 L356.00,321.31 L356.50,320.70 L357.00,320.08 L357.50,319.47 L358.00,318.86 L358.50,318.24 L359.00,317.62 L359.50,317.00 L360.00,316.38 L360.50,315.76 L361.00,315.14 L361.50,314.51 L362.00,313.89 L362.50,313.27 L363.00,312.65 L363.50,312.02 L364.00,311.40 L364.50,310.78 L365.00,310.16 L365.50,309.54 L366.00,308.92 L366.50,308.31 L367.00,307.69 L367.50,307.08 L368.00,306.47 L368.50,305.86 L369.00,305.25 L369.50,304.65 L370.00,304.05 L370.50,303.44 L371.00,302.84 L371.50,302.24 L372.00,301.65 L372.50,301.05 L373.00,300.46 L373.50,299.86 L374.00,299.27 L374.50,298.68 L375.00,298.09 L375.50,297.50 L376.00,296.92 L376.50,296.33 L377.00,295.75 L377.50,295.16 L378.00,294.58 L378.50,294.00 L379.00,293.42 L379.50,292.84 L380.00,292.26 L380.50,291.68 L381.00,291.10 L381.50,290.53 L382.00,289.95 L382.50,289.38 L383.00,288.80 L383.50,288.23 L384.00,287.65 L384.50,287.08 L385.00,286.51 L385.50,285.94 L386.00,285.37 L386.50,284.80 L387.00,284.23 L387.50,283.66 L388.00,283.09 L388.50,282.52 L389.00,281.95 L389.50,281.38 L390.00,280.81 L390.50,280.24 L391.00,279.67 L391.50,279.10 L392.00,278.53 L392.50,277.96 L393.00,277.39 L393.50,276.82 L394.00,276.25 L394.50,275.68 L395.00,275.11 L395.50,274.54 L396.00,273.97 L396.50,273.40 L397.00,272.83 L397.50,272.26 L398.00,271.68 L398.50,271.11 L399.00,270.54 L399.50,269.96 L400.00,269.39 L400.50,268.81 L401.00,268.24 L401.50,267.66 L402.00,267.08 L402.50,266.50 L403.00,265.92 L403.50,265.34 L404.00,264.76 L404.50,264.18 L405.00,263.60 L405.50,263.01 L406.00,262.43 L406.50,261.84 L407.00,261.25 L407.50,260.66 L408.00,260.07 L408.50,259.48 L409.00,258.89 L409.50,258.29 L410.00,257.70 L410.50,257.10 L411.00,256.50 L411.50,255.90 L412.00,255.30 L412.50,254.69 L413.00,254.09 L413.50,253.48 L414.00,252.87 L414.50,252.26 L415.00,251.65 L415.50,251.04 L416.00,250.42 L416.50,249.80 L417.00,249.18 L417.50,248.56 L418.00,247.94 L418.50,247.31 L419.00,246.69 L419.50,246.06 L420.00,245.42 L420.50,244.79 L421.00,244.15 L421.50,243.51 L422.00,242.87 L422.50,242.23 L423.00,241.59 L423.50,240.95 L424.00,240.31 L424.50,239.67 L425.00,239.03 L425.50,238.39 L426.00,237.75 L426.50,237.11 L427.00,236.48 L427.50,235.85 L428.00,235.22 L428.50,234.60 L429.00,233.98 L429.50,233.36 L430.00,232.75 L430.50,232.15 L431.00,231.55 L431.50,230.95 L432.00,230.37 L432.50,229.79 L433.00,229.21 L433.50,228.65 L434.00,228.09 L434.50,227.54 L435.00,227.00 L435.50,226.46 L436.00,225.94 L436.50,225.43 L437.00,224.93 L437.50,224.43 L438.00,223.95 L438.50,223.48 L439.00,223.02 L439.50,222.58 L440.00,222.15 L440.50,221.73 L441.00,221.32 L441.50,220.92 L442.00,220.55 L442.50,220.18 L443.00,219.83 L443.50,219.50 L444.00,219.17 L444.50,218.87 L445.00,218.58 L445.50,218.30 L446.00,218.04 L446.50,217.79 L447.00,217.56 L447.50,217.34 L448.00,217.14 L448.50,216.95 L449.00,216.78 L449.50,216.63 L450.00,216.48 L450.50,216.36 L451.00,216.25 L451.50,216.15 L452.00,216.07 L452.50,216.00 L453.00,215.95 L453.50,215.92 L454.00,215.90 L454.50,215.89 L455.00,215.90 L455.50,215.93 L456.00,215.97 L456.50,216.03 L457.00,216.10 L457.50,216.19 L458.00,216.30 L458.50,216.42 L459.00,216.55 L459.50,216.70 L460.00,216.87 L460.50,217.05 L461.00,217.25 L461.50,217.47 L462.00,217.70 L462.50,217.95 L463.00,218.21 L463.50,218.49 L464.00,218.78 L464.50,219.09 L465.00,219.42 L465.50,219.77 L466.00,220.13 L466.50,220.50 L467.00,220.89 L467.50,221.30 L468.00,221.73 L468.50,222.17 L469.00,222.62 L469.50,223.10 L470.00,223.58 L470.50,224.09 L471.00,224.61 L471.50,225.14 L472.00,225.69 L472.50,226.25 L473.00,226.83 L473.50,227.42 L474.00,228.02 L474.50,228.64 L475.00,229.28 L475.50,229.92 L476.00,230.58 L476.50,231.26 L477.00,231.94 L477.50,232.64 L478.00,233.36 L478.50,234.08 L479.00,234.82 L479.50,235.57 L480.00,236.33 L480.50,237.10 L481.00,237.89 L481.50,238.68 L482.00,239.49 L482.50,240.31 L483.00,241.14 L483.50,241.98 L484.00,242.83 L484.50,243.70 L485.00,244.57 L485.50,245.45 L486.00,246.34 L486.50,247.25 L487.00,248.16 L487.50,249.08 L488.00,250.01 L488.50,250.95 L489.00,251.90 L489.50,252.86 L490.00,253.82 L490.50,254.80 L491.00,255.78 L491.50,256.77 L492.00,257.77 L492.50,258.77 L493.00,259.77 L493.50,260.78 L494.00,261.79 L494.50,262.79 L495.00,263.80 L495.50,264.80 L496.00,265.79 L496.50,266.78 L497.00,267.76 L497.50,268.73 L498.00,269.68 L498.50,270.63 L499.00,271.56 L499.50,272.48 L500.00,273.37 L500.50,274.25 L501.00,275.11 L501.50,275.95 L502.00,276.77 L502.50,277.56 L503.00,278.33 L503.50,279.08 L504.00,279.81 L504.50,280.52 L505.00,281.22 L505.50,281.90 L506.00,282.56 L506.50,283.21 L507.00,283.85 L507.50,284.47 L508.00,285.08 L508.50,285.69 L509.00,286.28 L509.50,286.87 L510.00,287.45 L510.50,288.02 L511.00,288.59 L511.50,289.15 L512.00,289.71 L512.50,290.27 L513.00,290.83 L513.50,291.39 L514.00,291.95 L514.50,292.51 L515.00,293.08 L515.50,293.65 L516.00,294.22 L516.50,294.80 L517.00,295.39 L517.50,295.97 L518.00,296.56 L518.50,297.16 L519.00,297.75 L519.50,298.35 L520.00,298.96 L520.50,299.56 L521.00,300.17 L521.50,300.78 L522.00,301.40 L522.50,302.01 L523.00,302.63 L523.50,303.25 L524.00,303.87 L524.50,304.49 L525.00,305.12 L525.50,305.75 L526.00,306.37 L526.50,307.00 L527.00,307.63 L527.50,308.26 L528.00,308.89 L528.50,309.52 L529.00,310.15 L529.50,310.78 L530.00,311.41 L530.50,312.04 L531.00,312.66 L531.50,313.29 L532.00,313.92 L532.50,314.55 L533.00,315.17 L533.50,315.80 L534.00,316.42 L534.50,317.04 L535.00,317.66 L535.50,318.28 L536.00,318.89 L536.50,319.50 L537.00,320.11 L537.50,320.72 L538.00,321.33 L538.50,321.93 L539.00,322.53 L539.50,323.12 L540.00,323.72 L540.50,324.30 L541.00,324.89 L541.50,325.47 L542.00,326.05 L542.50,326.62 L543.00,327.19 L543.50,327.75 L544.00,328.31 L544.50,328.87 L545.00,329.42 L545.50,329.96 L546.00,330.50 L546.50,331.04 L547.00,331.56 L547.50,332.09 L548.00,332.60 L548.50,333.11 L549.00,333.62 L549.50,334.12 L550.00,334.61 L550.50,335.09 L551.00,335.57 L551.50,336.04 L552.00,336.51 L552.50,336.97 L553.00,337.42 L553.50,337.87 L554.00,338.31 L554.50,338.75 L555.00,339.18 L555.50,339.60 L556.00,340.01 L556.50,340.42 L557.00,340.82 L557.50,341.22 L558.00,341.61 L558.50,341.99 L559.00,342.37 L559.50,342.74 L560.00,343.10 L560.50,343.46 L561.00,343.81 L561.50,344.16 L562.00,344.49 L562.50,344.83 L563.00,345.15 L563.50,345.47 L564.00,345.78 L564.50,346.09 L565.00,346.38 L565.50,346.68 L566.00,346.96 L566.50,347.24 L567.00,347.51 L567.50,347.78 L568.00,348.04 L568.50,348.29 L569.00,348.54 L569.50,348.77 L570.00,349.01 L570.50,349.23 L571.00,349.45 L571.50,349.66 L572.00,349.87 L572.50,350.07 L573.00,350.26 L573.50,350.44 L574.00,350.62 L574.50,350.79 L575.00,350.96 L575.50,351.12 L576.00,351.27 L576.50,351.41 L577.00,351.55 L577.50,351.68 L578.00,351.80 L578.50,351.92 L579.00,352.03 L579.50,352.14 L580.00,352.23 L580.50,352.32 L581.00,352.40 L581.50,352.48 L582.00,352.55 L582.50,352.61 L583.00,352.67 L583.50,352.71 L584.00,352.76 L584.50,352.79 L585.00,352.82 L585.50,352.84 L586.00,352.85 L586.50,352.86 L587.00,352.86 L587.50,352.85 L588.00,352.83 L588.50,352.81 L589.00,352.78 L589.50,352.75 L590.00,352.70 L590.50,352.65 L591.00,352.60 L591.50,352.53 L592.00,352.46 L592.50,352.38 L593.00,352.29 L593.50,352.20 L594.00,352.10 L594.50,351.99 L595.00,351.88 L595.50,351.76 L596.00,351.63 L596.50,351.49 L597.00,351.35 L597.50,351.20 L598.00,351.04 L598.50,350.88 L599.00,350.70 L599.50,350.52 L600.00,350.34 L600.50,350.14 L601.00,349.94 L601.50,349.73 L602.00,349.52 L602.50,349.29 L603.00,349.06 L603.50,348.83 L604.00,348.58 L604.50,348.33 L605.00,348.07 L605.50,347.80 L606.00,347.52 L606.50,347.24 L607.00,346.95 L607.50,346.66 L608.00,346.35 L608.50,346.04 L609.00,345.72 L609.50,345.39 L610.00,345.06 L610.50,344.72 L611.00,344.37 L611.50,344.01 L612.00,343.64 L612.50,343.27 L613.00,342.89 L613.50,342.51 L614.00,342.11 L614.50,341.71 L615.00,341.30 L615.50,340.88 L616.00,340.46 L616.50,340.02 L617.00,339.58 L617.50,339.14 L618.00,338.68 L618.50,338.22 L619.00,337.75 L619.50,337.27 L620.00,336.78 L620.50,336.29 L621.00,335.79 L621.50,335.28 L622.00,334.76 L622.50,334.24 L623.00,333.70 L623.50,333.16" stroke="#E9B42A" stroke-width="2.75"/>
<path d="M70.50,299.01 L71.00,298.75 L71.50,298.49 L72.00,298.23 L72.50,297.97 L73.00,297.72 L73.50,297.46 L74.00,297.20 L74.50,296.94 L75.00,296.68 L75.50,296.41 L76.00,296.15 L76.50,295.88 L77.00,295.61 L77.50,295.33 L78.00,295.06 L78.50,294.78 L79.00,294.49 L79.50,294.20 L80.00,293.91 L80.50,293.61 L81.00,293.31 L81.50,293.00 L82.00,292.68 L82.50,292.36 L83.00,292.04 L83.50,291.70 L84.00,291.36 L84.50,291.01 L85.00,290.66 L85.50,290.29 L86.00,289.92 L86.50,289.54 L87.00,289.15 L87.50,288.75 L88.00,288.34 L88.50,287.93 L89.00,287.50 L89.50,287.06 L90.00,286.61 L90.50,286.15 L91.00,285.68 L91.50,285.19 L92.00,284.70 L92.50,284.19 L93.00,283.67 L93.50,283.14 L94.00,282.59 L94.50,282.03 L95.00,281.45 L95.50,280.87 L96.00,280.26 L96.50,279.65 L97.00,279.01 L97.50,278.37 L98.00,277.70 L98.50,277.02 L99.00,276.32 L99.50,275.61 L100.00,274.87 L100.50,274.12 L101.00,273.35 L101.50,272.55 L102.00,271.73 L102.50,270.89 L103.00,270.02 L103.50,269.13 L104.00,268.21 L104.50,267.26 L105.00,266.29 L105.50,265.29 L106.00,264.25 L106.50,263.19 L107.00,262.10 L107.50,260.97 L108.00,259.81 L108.50,258.62 L109.00,257.39 L109.50,256.12 L110.00,254.82 L110.50,253.48 L111.00,252.10 L111.50,250.68 L112.00,249.23 L112.50,247.73 L113.00,246.21 L113.50,244.64 L114.00,243.05 L114.50,241.42 L115.00,239.76 L115.50,238.08 L116.00,236.37 L116.50,234.63 L117.00,232.87 L117.50,231.09 L118.00,229.29 L118.50,227.48 L119.00,225.64 L119.50,223.79 L120.00,221.93 L120.50,220.05 L121.00,218.17 L121.50,216.27 L122.00,214.37 L122.50,212.47 L123.00,210.56 L123.50,208.64 L124.00,206.73 L124.50,204.81 L125.00,202.90 L125.50,200.99 L126.00,199.09 L126.50,197.18 L127.00,195.29 L127.50,193.39 L128.00,191.50 L128.50,189.61 L129.00,187.73 L129.50,185.85 L130.00,183.98 L130.50,182.12 L131.00,180.26 L131.50,178.41 L132.00,176.57 L132.50,174.73 L133.00,172.90 L133.50,171.08 L134.00,169.27 L134.50,167.46 L135.00,165.67 L135.50,163.89 L136.00,162.11 L136.50,160.35 L137.00,158.60 L137.50,156.85 L138.00,155.12 L138.50,153.41 L139.00,151.70 L139.50,150.01 L140.00,148.33 L140.50,146.66 L141.00,145.00 L141.50,143.36 L142.00,141.74 L142.50,140.13 L143.00,138.53 L143.50,136.95 L144.00,135.39 L144.50,133.84 L145.00,132.31 L145.50,130.79 L146.00,129.30 L146.50,127.82 L147.00,126.36 L147.50,124.91 L148.00,123.49 L148.50,122.08 L149.00,120.70 L149.50,119.33 L150.00,117.98 L150.50,116.66 L151.00,115.35 L151.50,114.07 L152.00,112.81 L152.50,111.56 L153.00,110.35 L153.50,109.15 L154.00,107.98 L154.50,106.83 L155.00,105.71 L155.50,104.60 L156.00,103.53 L156.50,102.48 L157.00,101.45 L157.50,100.45 L158.00,99.47 L158.50,98.52 L159.00,97.60 L159.50,96.71 L160.00,95.84 L160.50,95.00 L161.00,94.19 L161.50,93.40 L162.00,92.65 L162.50,91.92 L163.00,91.23 L163.50,90.56 L164.00,89.93 L164.50,89.32 L165.00,88.75 L165.50,88.20 L166.00,87.69 L166.50,87.21 L167.00,86.77 L167.50,86.35 L168.00,85.97 L168.50,85.62 L169.00,85.31 L169.50,85.03 L170.00,84.79 L170.50,84.58 L171.00,84.40 L171.50,84.26 L172.00,84.16 L172.50,84.09 L173.00,84.06 L173.50,84.07 L174.00,84.11 L174.50,84.19 L175.00,84.31 L175.50,84.46 L176.00,84.64 L176.50,84.87 L177.00,85.12 L177.50,85.41 L178.00,85.74 L178.50,86.10 L179.00,86.49 L179.50,86.92 L180.00,87.38 L180.50,87.88 L181.00,88.41 L181.50,88.97 L182.00,89.56 L182.50,90.19 L183.00,90.85 L183.50,91.54 L184.00,92.26 L184.50,93.01 L185.00,93.80 L185.50,94.61 L186.00,95.46 L186.50,96.34 L187.00,97.25 L187.50,98.18 L188.00,99.15 L188.50,100.15 L189.00,101.18 L189.50,102.23 L190.00,103.32 L190.50,104.43 L191.00,105.57 L191.50,106.74 L192.00,107.94 L192.50,109.17 L193.00,110.42 L193.50,111.70 L194.00,113.01 L194.50,114.34 L195.00,115.70 L195.50,117.09 L196.00,118.50 L196.50,119.94 L197.00,121.41 L197.50,122.90 L198.00,124.42 L198.50,125.96 L199.00,127.53 L199.50,129.12 L200.00,130.74 L200.50,132.38 L201.00,134.06 L201.50,135.76 L202.00,137.48 L202.50,139.24 L203.00,141.02 L203.50,142.83 L204.00,144.66 L204.50,146.53 L205.00,148.42 L205.50,150.34 L206.00,152.29 L206.50,154.27 L207.00,156.28 L207.50,158.32 L208.00,160.39 L208.50,162.49 L209.00,164.61 L209.50,166.77 L210.00,168.95 L210.50,171.16 L211.00,173.40 L211.50,175.66 L212.00,177.95 L212.50,180.26 L213.00,182.60 L213.50,184.96 L214.00,187.34 L214.50,189.74 L215.00,192.17 L215.50,194.61 L216.00,197.07 L216.50,199.56 L217.00,202.05 L217.50,204.57 L218.00,207.09 L218.50,209.63 L219.00,212.17 L219.50,214.73 L220.00,217.28 L220.50,219.85 L221.00,222.41 L221.50,224.97 L222.00,227.54 L222.50,230.10 L223.00,232.65 L223.50,235.20 L224.00,237.74 L224.50,240.26 L225.00,242.77 L225.50,245.27 L226.00,247.74 L226.50,250.19 L227.00,252.61 L227.50,255.00 L228.00,257.36 L228.50,259.69 L229.00,261.98 L229.50,264.22 L230.00,266.43 L230.50,268.60 L231.00,270.72 L231.50,272.80 L232.00,274.83 L232.50,276.80 L233.00,278.73 L233.50,280.60 L234.00,282.42 L234.50,284.18 L235.00,285.88 L235.50,287.53 L236.00,289.13 L236.50,290.68 L237.00,292.19 L237.50,293.65 L238.00,295.08 L238.50,296.46 L239.00,297.81 L239.50,299.13 L240.00,300.43 L240.50,301.69 L241.00,302.93 L241.50,304.15 L242.00,305.35 L242.50,306.53 L243.00,307.70 L243.50,308.86 L244.00,310.01 L244.50,311.15 L245.00,312.30 L245.50,313.43 L246.00,314.57 L246.50,315.70 L247.00,316.83 L247.50,317.96 L248.00,319.08 L248.50,320.20 L249.00,321.31 L249.50,322.42 L250.00,323.53 L250.50,324.63 L251.00,325.73 L251.50,326.82 L252.00,327.91 L252.50,329.00 L253.00,330.08 L253.50,331.15 L254.00,332.22 L254.50,333.29 L255.00,334.35 L255.50,335.40 L256.00,336.45 L256.50,337.50 L257.00,338.54 L257.50,339.57 L258.00,340.60 L258.50,341.62 L259.00,342.64 L259.50,343.65 L260.00,344.66 L260.50,345.65 L261.00,346.65 L261.50,347.63 L262.00,348.61 L262.50,349.58 L263.00,350.55 L263.50,351.51 L264.00,352.46 L264.50,353.41 L265.00,354.34 L265.50,355.27 L266.00,356.20 L266.50,357.11 L267.00,358.02 L267.50,358.92 L268.00,359.81 L268.50,360.70 L269.00,361.58 L269.50,362.45 L270.00,363.31 L270.50,364.16 L271.00,365.00 L271.50,365.84 L272.00,366.67 L272.50,367.48 L273.00,368.29 L273.50,369.09 L274.00,369.88 L274.50,370.67 L275.00,371.44 L275.50,372.20 L276.00,372.96 L276.50,373.70 L277.00,374.44 L277.50,375.16 L278.00,375.88 L278.50,376.58 L279.00,377.28 L279.50,377.96 L280.00,378.64 L280.50,379.30 L281.00,379.96 L281.50,380.60 L282.00,381.23 L282.50,381.86 L283.00,382.47 L283.50,383.07 L284.00,383.66 L284.50,384.23 L285.00,384.80 L285.50,385.35 L286.00,385.90 L286.50,386.43 L287.00,386.95 L287.50,387.46 L288.00,387.95 L288.50,388.44 L289.00,388.91 L289.50,389.37 L290.00,389.81 L290.50,390.25 L291.00,390.67 L291.50,391.08 L292.00,391.48 L292.50,391.86 L293.00,392.23 L293.50,392.59 L294.00,392.93 L294.50,393.26 L295.00,393.58 L295.50,393.89 L296.00,394.18 L296.50,394.45 L297.00,394.71 L297.50,394.96 L298.00,395.20 L298.50,395.42 L299.00,395.62 L299.50,395.82 L300.00,395.99 L300.50,396.16 L301.00,396.30 L301.50,396.44 L302.00,396.56 L302.50,396.66 L303.00,396.75 L303.50,396.82 L304.00,396.88 L304.50,396.92 L305.00,396.95 L305.50,396.96 L306.00,396.95 L306.50,396.93 L307.00,396.90 L307.50,396.85 L308.00,396.78 L308.50,396.70 L309.00,396.60 L309.50,396.49 L310.00,396.36 L310.50,396.22 L311.00,396.07 L311.50,395.90 L312.00,395.71 L312.50,395.51 L313.00,395.30 L313.50,395.07 L314.00,394.82 L314.50,394.57 L315.00,394.29 L315.50,394.01 L316.00,393.71 L316.50,393.39 L317.00,393.07 L317.50,392.73 L318.00,392.37 L318.50,392.00 L319.00,391.62 L319.50,391.22 L320.00,390.81 L320.50,390.39 L321.00,389.96 L321.50,389.51 L322.00,389.05 L322.50,388.57 L323.00,388.08 L323.50,387.58 L324.00,387.07 L324.50,386.54 L325.00,386.01 L325.50,385.45 L326.00,384.89 L326.50,384.32 L327.00,383.73 L327.50,383.13 L328.00,382.51 L328.50,381.89 L329.00,381.25 L329.50,380.61 L330.00,379.95 L330.50,379.27 L331.00,378.59 L331.50,377.90 L332.00,377.19 L332.50,376.47 L333.00,375.74 L333.50,375.00 L334.00,374.25 L334.50,373.49 L335.00,372.71 L335.50,371.93 L336.00,371.13 L336.50,370.33 L337.00,369.51 L337.50,368.68 L338.00,367.85 L338.50,367.00 L339.00,366.14 L339.50,365.27 L340.00,364.39 L340.50,363.50 L341.00,362.60 L341.50,361.69 L342.00,360.77 L342.50,359.85 L343.00,358.91 L343.50,357.96 L344.00,357.01 L344.50,356.04 L345.00,355.07 L345.50,354.10 L346.00,353.11 L346.50,352.12 L347.00,351.13 L347.50,350.13 L348.00,349.12 L348.50,348.11 L349.00,347.10 L349.50,346.08 L350.00,345.06 L350.50,344.04 L351.00,343.01 L351.50,341.99 L352.00,340.96 L352.50,339.93 L353.00,338.90 L353.50,337.87 L354.00,336.84 L354.50,335.81 L355.00,334.79 L355.50,333.76 L356.00,332.74 L356.50,331.71 L357.00,330.70 L357.50,329.68 L358.00,328.67 L358.50,327.66 L359.00,326.66 L359.50,325.66 L360.00,324.67 L360.50,323.68 L361.00,322.70 L361.50,321.73 L362.00,320.75 L362.50,319.78 L363.00,318.81 L363.50,317.84 L364.00,316.87 L364.50,315.89 L365.00,314.92 L365.50,313.94 L366.00,312.96 L366.50,311.97 L367.00,310.97 L367.50,309.97 L368.00,308.96 L368.50,307.94 L369.00,306.91 L369.50,305.87 L370.00,304.82 L370.50,303.75 L371.00,302.67 L371.50,301.58 L372.00,300.47 L372.50,299.34 L373.00,298.20 L373.50,297.04 L374.00,295.87 L374.50,294.68 L375.00,293.48 L375.50,292.26 L376.00,291.03 L376.50,289.79 L377.00,288.54 L377.50,287.28 L378.00,286.00 L378.50,284.72 L379.00,283.42 L379.50,282.12 L380.00,280.81 L380.50,279.49 L381.00,278.16 L381.50,276.83 L382.00,275.49 L382.50,274.15 L383.00,272.80 L383.50,271.44 L384.00,270.07 L384.50,268.70 L385.00,267.31 L385.50,265.92 L386.00,264.52 L386.50,263.10 L387.00,261.67 L387.50,260.23 L388.00,258.78 L388.50,257.31 L389.00,255.82 L389.50,254.32 L390.00,252.81 L390.50,251.27 L391.00,249.72 L391.50,248.15 L392.00,246.56 L392.50,244.95 L393.00,243.32 L393.50,241.67 L394.00,239.99 L394.50,238.29 L395.00,236.57 L395.50,234.83 L396.00,233.06 L396.50,231.28 L397.00,229.47 L397.50,227.65 L398.00,225.81 L398.50,223.95 L399.00,222.07 L399.50,220.18 L400.00,218.28 L400.50,216.36 L401.00,214.44 L401.50,212.50 L402.00,210.55 L402.50,208.59 L403.00,206.62 L403.50,204.65 L404.00,202.67 L404.50,200.69 L405.00,198.70 L405.50,196.70 L406.00,194.71 L406.50,192.71 L407.00,190.72 L407.50,188.72 L408.00,186.72 L408.50,184.73 L409.00,182.74 L409.50,180.76 L410.00,178.78 L410.50,176.80 L411.00,174.84 L411.50,172.88 L412.00,170.93 L412.50,168.99 L413.00,167.06 L413.50,165.15 L414.00,163.24 L414.50,161.35 L415.00,159.48 L415.50,157.62 L416.00,155.78 L416.50,153.95 L417.00,152.15 L417.50,150.36 L418.00,148.60 L418.50,146.85 L419.00,145.13 L419.50,143.43 L420.00,141.75 L420.50,140.09 L421.00,138.45 L421.50,136.84 L422.00,135.25 L422.50,133.68 L423.00,132.14 L423.50,130.61 L424.00,129.12 L424.50,127.64 L425.00,126.19 L425.50,124.77 L426.00,123.37 L426.50,121.99 L427.00,120.64 L427.50,119.31 L428.00,118.01 L428.50,116.73 L429.00,115.48 L429.50,114.26 L430.00,113.06 L430.50,111.89 L431.00,110.75 L431.50,109.63 L432.00,108.54 L432.50,107.47 L433.00,106.44 L433.50,105.43 L434.00,104.45 L434.50,103.50 L435.00,102.58 L435.50,101.68 L436.00,100.82 L436.50,99.98 L437.00,99.18 L437.50,98.40 L438.00,97.65 L438.50,96.93 L439.00,96.25 L439.50,95.59 L440.00,94.96 L440.50,94.37 L441.00,93.81 L441.50,93.27 L442.00,92.77 L442.50,92.30 L443.00,91.87 L443.50,91.46 L444.00,91.09 L444.50,90.75 L445.00,90.44 L445.50,90.16 L446.00,89.92 L446.50,89.71 L447.00,89.53 L447.50,89.38 L448.00,89.26 L448.50,89.18 L449.00,89.12 L449.50,89.11 L450.00,89.12 L450.50,89.16 L451.00,89.24 L451.50,89.35 L452.00,89.49 L452.50,89.67 L453.00,89.87 L453.50,90.11 L454.00,90.39 L454.50,90.69 L455.00,91.03 L455.50,91.40 L456.00,91.80 L456.50,92.24 L457.00,92.71 L457.50,93.21 L458.00,93.74 L458.50,94.31 L459.00,94.91 L459.50,95.54 L460.00,96.20 L460.50,96.90 L461.00,97.63 L461.50,98.40 L462.00,99.19 L462.50,100.02 L463.00,100.89 L463.50,101.78 L464.00,102.71 L464.50,103.68 L465.00,104.67 L465.50,105.70 L466.00,106.76 L466.50,107.86 L467.00,108.99 L467.50,110.15 L468.00,111.35 L468.50,112.57 L469.00,113.84 L469.50,115.13 L470.00,116.46 L470.50,117.83 L471.00,119.22 L471.50,120.65 L472.00,122.12 L472.50,123.61 L473.00,125.15 L473.50,126.71 L474.00,128.31 L474.50,129.94 L475.00,131.61 L475.50,133.31 L476.00,135.04 L476.50,136.81 L477.00,138.61 L477.50,140.44 L478.00,142.30 L478.50,144.19 L479.00,146.11 L479.50,148.06 L480.00,150.03 L480.50,152.04 L481.00,154.07 L481.50,156.13 L482.00,158.21 L482.50,160.32 L483.00,162.45 L483.50,164.61 L484.00,166.78 L484.50,168.98 L485.00,171.21 L485.50,173.45 L486.00,175.71 L486.50,177.99 L487.00,180.29 L487.50,182.61 L488.00,184.95 L488.50,187.30 L489.00,189.67 L489.50,192.06 L490.00,194.46 L490.50,196.87 L491.00,199.30 L491.50,201.74 L492.00,204.19 L492.50,206.65 L493.00,209.13 L493.50,211.61 L494.00,214.11 L494.50,216.61 L495.00,219.12 L495.50,221.63 L496.00,224.14 L496.50,226.65 L497.00,229.15 L497.50,231.64 L498.00,234.13 L498.50,236.60 L499.00,239.06 L499.50,241.50 L500.00,243.92 L500.50,246.32 L501.00,248.69 L501.50,251.03 L502.00,253.34 L502.50,255.62 L503.00,257.87 L503.50,260.07 L504.00,262.24 L504.50,264.38 L505.00,266.48 L505.50,268.54 L506.00,270.57 L506.50,272.56 L507.00,274.52 L507.50,276.44 L508.00,278.32 L508.50,280.17 L509.00,281.98 L509.50,283.76 L510.00,285.50 L510.50,287.20 L511.00,288.87 L511.50,290.50 L512.00,292.10 L512.50,293.66 L513.00,295.18 L513.50,296.67 L514.00,298.13 L514.50,299.54 L515.00,300.93 L515.50,302.27 L516.00,303.58 L516.50,304.86 L517.00,306.11 L517.50,307.33 L518.00,308.53 L518.50,309.69 L519.00,310.84 L519.50,311.96 L520.00,313.06 L520.50,314.15 L521.00,315.22 L521.50,316.27 L522.00,317.31 L522.50,318.34 L523.00,319.36 L523.50,320.38 L524.00,321.38 L524.50,322.39 L525.00,323.39 L525.50,324.39 L526.00,325.39 L526.50,326.39 L527.00,327.40 L527.50,328.42 L528.00,329.44 L528.50,330.47 L529.00,331.52 L529.50,332.58 L530.00,333.65 L530.50,334.73 L531.00,335.82 L531.50,336.91 L532.00,338.01 L532.50,339.12 L533.00,340.23 L533.50,341.34 L534.00,342.45 L534.50,343.56 L535.00,344.66 L535.50,345.77 L536.00,346.86 L536.50,347.95 L537.00,349.03 L537.50,350.10 L538.00,351.16 L538.50,352.21 L539.00,353.24 L539.50,354.27 L540.00,355.28 L540.50,356.27 L541.00,357.26 L541.50,358.23 L542.00,359.19 L542.50,360.14 L543.00,361.08 L543.50,362.00 L544.00,362.91 L544.50,363.81 L545.00,364.70 L545.50,365.58 L546.00,366.44 L546.50,367.29 L547.00,368.13 L547.50,368.95 L548.00,369.76 L548.50,370.56 L549.00,371.35 L549.50,372.13 L550.00,372.89 L550.50,373.64 L551.00,374.38 L551.50,375.11 L552.00,375.82 L552.50,376.52 L553.00,377.21 L553.50,377.89 L554.00,378.56 L554.50,379.21 L555.00,379.85 L555.50,380.47 L556.00,381.09 L556.50,381.69 L557.00,382.28 L557.50,382.86 L558.00,383.42 L558.50,383.98 L559.00,384.52 L559.50,385.04 L560.00,385.56 L560.50,386.06 L561.00,386.55 L561.50,387.03 L562.00,387.50 L562.50,387.95 L563.00,388.39 L563.50,388.82 L564.00,389.23 L564.50,389.64 L565.00,390.03 L565.50,390.40 L566.00,390.77 L566.50,391.12 L567.00,391.46 L567.50,391.79 L568.00,392.11 L568.50,392.41 L569.00,392.70 L569.50,392.98 L570.00,393.24 L570.50,393.50 L571.00,393.74 L571.50,393.96 L572.00,394.18 L572.50,394.38 L573.00,394.57 L573.50,394.75 L574.00,394.91 L574.50,395.06 L575.00,395.20 L575.50,395.33 L576.00,395.45 L576.50,395.55 L577.00,395.64 L577.50,395.71 L578.00,395.78 L578.50,395.83 L579.00,395.87 L579.50,395.89 L580.00,395.91 L580.50,395.91 L581.00,395.90 L581.50,395.87 L582.00,395.83 L582.50,395.78 L583.00,395.72 L583.50,395.65 L584.00,395.56 L584.50,395.46 L585.00,395.35 L585.50,395.22 L586.00,395.08 L586.50,394.93 L587.00,394.77 L587.50,394.59 L588.00,394.40 L588.50,394.20 L589.00,393.98 L589.50,393.76 L590.00,393.52 L590.50,393.26 L591.00,393.00 L591.50,392.72 L592.00,392.43 L592.50,392.12 L593.00,391.81 L593.50,391.48 L594.00,391.14 L594.50,390.78 L595.00,390.41 L595.50,390.03 L596.00,389.64 L596.50,389.24 L597.00,388.82 L597.50,388.39 L598.00,387.94 L598.50,387.48 L599.00,387.01 L599.50,386.53 L600.00,386.04 L600.50,385.53 L601.00,385.01 L601.50,384.47 L602.00,383.93 L602.50,383.37 L603.00,382.80 L603.50,382.21 L604.00,381.61 L604.50,381.00 L605.00,380.38 L605.50,379.74 L606.00,379.09 L606.50,378.43 L607.00,377.75 L607.50,377.07 L608.00,376.37 L608.50,375.65 L609.00,374.92 L609.50,374.19 L610.00,373.43 L610.50,372.67 L611.00,371.89 L611.50,371.10 L612.00,370.29 L612.50,369.48 L613.00,368.65 L613.50,367.80 L614.00,366.95 L614.50,366.08 L615.00,365.20 L615.50,364.30 L616.00,363.40 L616.50,362.48 L617.00,361.54 L617.50,360.60 L618.00,359.64 L618.50,358.67 L619.00,357.68 L619.50,356.68 L620.00,355.67 L620.50,354.65 L621.00,353.61 L621.50,352.56 L622.00,351.50 L622.50,350.42 L623.00,349.33 L623.50,348.23" stroke="#5CC6EF" stroke-width="2.75"/>
<path d="M70.50,226.30 L70.87,224.47 L71.24,222.63 L71.61,220.80 L71.98,218.96 L72.34,217.13 L72.71,215.30 L73.08,213.46 L73.45,211.63 L73.82,209.80 L74.19,207.97 L74.56,206.15 L74.93,204.32 L75.30,202.50 L75.66,200.67 L76.03,198.85 L76.40,197.03 L76.77,195.22 L77.14,193.40 L77.51,191.59 L77.88,189.78 L78.25,187.97 L78.62,186.17 L78.98,184.36 L79.35,182.56 L79.72,180.77 L80.09,178.98 L80.46,177.19 L80.83,175.40 L81.20,173.62 L81.57,171.84 L81.94,170.07 L82.31,168.30 L82.67,166.53 L83.04,164.77 L83.41,163.01 L83.78,161.26 L84.15,159.51 L84.52,157.77 L84.89,156.03 L85.26,154.29 L85.63,152.56 L85.99,150.84 L86.36,149.12 L86.73,147.41 L87.10,145.70 L87.47,144.00 L87.84,142.31 L88.21,140.62 L88.58,138.93 L88.95,137.26 L89.31,135.59 L89.68,133.92 L90.05,132.26 L90.42,130.61 L90.79,128.97 L91.16,127.33 L91.53,125.70 L91.90,124.08 L92.27,122.46 L92.63,120.85 L93.00,119.25 L93.37,117.66 L93.74,116.07 L94.11,114.49 L94.48,112.92 L94.85,111.36 L95.22,109.81 L95.59,108.26 L95.95,106.73 L96.32,105.20 L96.69,103.68 L97.06,102.17 L97.43,100.67 L97.80,99.17 L98.17,97.69 L98.54,96.21 L98.91,94.75 L99.28,93.29 L99.64,91.84 L100.01,90.41 L100.38,88.98 L100.75,87.56 L101.12,86.15 L101.49,84.75 L101.86,83.37 L102.23,81.99 L102.60,80.62 L102.96,79.26 L103.33,77.92 L103.70,76.58 L104.07,75.26 L104.44,73.94 L104.81,72.64 L105.18,71.34 L105.55,70.06 L105.92,68.79 L106.28,67.53 L106.65,66.28 L107.02,65.05 L107.39,63.82 L107.76,62.61 L108.13,61.40 L108.50,60.21 L108.87,59.03 L109.24,57.87 L109.60,56.71 L109.97,55.57 L110.34,54.44 L110.71,53.32 L111.08,52.21 L111.45,51.12 L111.82,50.04 L112.19,48.97 L112.56,47.92 L112.92,46.87 L113.29,45.84 L113.66,44.82 L114.03,43.82 L114.40,42.83 L114.77,41.85 L115.14,40.88 L115.51,39.93 L115.88,38.99 L116.25,38.06 L116.61,37.15 L116.98,36.25 L117.35,35.37 L117.72,34.50 L118.09,33.64 L118.46,32.79 L118.83,31.96 L119.20,31.14 L119.57,30.34 L119.93,29.55 L120.30,28.78 L120.67,28.02 L121.04,27.27 L121.41,26.54 L121.78,25.82 L122.15,25.11 L122.52,24.42 L122.89,23.75 L123.25,23.09 L123.62,22.44 L123.99,21.81 L124.36,21.19 L124.73,20.59 L125.10,20.00 L125.47,19.42 L125.84,18.87 L126.21,18.32 L126.57,17.79 L126.94,17.28 L127.31,16.78 L127.68,16.29 L128.05,15.82 L128.42,15.37 L128.79,14.93 L129.16,14.50 L129.53,14.09 L129.89,13.70 L130.26,13.32 L130.63,12.95 L131.00,12.60 L131.37,12.27 L131.74,11.95 L132.11,11.65 L132.48,11.36 L132.85,11.09 L133.22,10.83 L133.58,10.59 L133.95,10.36 L134.32,10.15 L134.69,9.95 L135.06,9.77 L135.43,9.61 L135.80,9.46 L136.17,9.32 L136.54,9.20 L136.90,9.10 L137.27,9.01 L137.64,8.94 L138.01,8.88 L138.38,8.84 L138.75,8.81 L139.12,8.80 L139.49,8.80 L139.86,8.82 L140.22,8.86 L140.59,8.91 L140.96,8.98 L141.33,9.06 L141.70,9.16 L142.07,9.27 L142.44,9.40 L142.81,9.54 L143.18,9.70 L143.54,9.88 L143.91,10.07 L144.28,10.27 L144.65,10.49 L145.02,10.73 L145.39,10.98 L145.76,11.25 L146.13,11.53 L146.50,11.83 L146.86,12.14 L147.23,12.47 L147.60,12.81 L147.97,13.17 L148.34,13.54 L148.71,13.93 L149.08,14.33 L149.45,14.75 L149.82,15.19 L150.19,15.63 L150.55,16.10 L150.92,16.58 L151.29,17.07 L151.66,17.58 L152.03,18.10 L152.40,18.64 L152.77,19.19 L153.14,19.76 L153.51,20.34 L153.87,20.94 L154.24,21.55 L154.61,22.18 L154.98,22.82 L155.35,23.48 L155.72,24.15 L156.09,24.83 L156.46,25.53 L156.83,26.24 L157.19,26.97 L157.56,27.71 L157.93,28.47 L158.30,29.23 L158.67,30.02 L159.04,30.82 L159.41,31.63 L159.78,32.45 L160.15,33.29 L160.51,34.14 L160.88,35.01 L161.25,35.89 L161.62,36.78 L161.99,37.69 L162.36,38.61 L162.73,39.54 L163.10,40.49 L163.47,41.45 L163.83,42.43 L164.20,43.41 L164.57,44.41 L164.94,45.42 L165.31,46.45 L165.68,47.49 L166.05,48.54 L166.42,49.60 L166.79,50.68 L167.16,51.77 L167.52,52.87 L167.89,53.98 L168.26,55.11 L168.63,56.25 L169.00,57.40 L169.37,58.56 L169.74,59.73 L170.11,60.92 L170.48,62.11 L170.84,63.32 L171.21,64.54 L171.58,65.78 L171.95,67.02 L172.32,68.28 L172.69,69.54 L173.06,70.82 L173.43,72.11 L173.80,73.41 L174.16,74.72 L174.53,76.04 L174.90,77.37 L175.27,78.71 L175.64,80.07 L176.01,81.43 L176.38,82.80 L176.75,84.19 L177.12,85.58 L177.48,86.99 L177.85,88.40 L178.22,89.82 L178.59,91.26 L178.96,92.70 L179.33,94.15 L179.70,95.61 L180.07,97.09 L180.44,98.57 L180.80,100.06 L181.17,101.55 L181.54,103.06 L181.91,104.58 L182.28,106.10 L182.65,107.64 L183.02,109.18 L183.39,110.73 L183.76,112.29 L184.13,113.85 L184.49,115.43 L184.86,117.01 L185.23,118.60 L185.60,120.20 L185.97,121.80 L186.34,123.42 L186.71,125.04 L187.08,126.66 L187.45,128.30 L187.81,129.94 L188.18,131.59 L188.55,133.24 L188.92,134.91 L189.29,136.57 L189.66,138.25 L190.03,139.93 L190.40,141.62 L190.77,143.31 L191.13,145.01 L191.50,146.71 L191.87,148.42 L192.24,150.14 L192.61,151.86 L192.98,153.59 L193.35,155.32 L193.72,157.06 L194.09,158.80 L194.45,160.54 L194.82,162.30 L195.19,164.05 L195.56,165.81 L195.93,167.58 L196.30,169.34 L196.67,171.12 L197.04,172.89 L197.41,174.67 L197.77,176.46 L198.14,178.25 L198.51,180.04 L198.88,181.83 L199.25,183.63 L199.62,185.43 L199.99,187.23 L200.36,189.04 L200.73,190.85 L201.10,192.66 L201.46,194.47 L201.83,196.29 L202.20,198.11 L202.57,199.93 L202.94,201.75 L203.31,203.58 L203.68,205.40 L204.05,207.23 L204.42,209.06 L204.78,210.89 L205.15,212.72 L205.52,214.55 L205.89,216.38 L206.26,218.21 L206.63,220.05 L207.00,221.88 L207.37,223.72 L207.74,225.55 L208.10,227.39 L208.47,229.22 L208.84,231.06 L209.21,232.89 L209.58,234.72 L209.95,236.56 L210.32,238.39 L210.69,240.22 L211.06,242.05 L211.42,243.88 L211.79,245.71 L212.16,247.54 L212.53,249.36 L212.90,251.18 L213.27,253.01 L213.64,254.83 L214.01,256.64 L214.38,258.46 L214.74,260.27 L215.11,262.08 L215.48,263.89 L215.85,265.70 L216.22,267.50 L216.59,269.30 L216.96,271.10 L217.33,272.89 L217.70,274.68 L218.07,276.47 L218.43,278.25 L218.80,280.03 L219.17,281.81 L219.54,283.58 L219.91,285.35 L220.28,287.11 L220.65,288.87 L221.02,290.63 L221.39,292.38 L221.75,294.12 L222.12,295.86 L222.49,297.60 L222.86,299.33 L223.23,301.06 L223.60,302.78 L223.97,304.49 L224.34,306.20 L224.71,307.91 L225.07,309.60 L225.44,311.30 L225.81,312.98 L226.18,314.66 L226.55,316.33 L226.92,318.00 L227.29,319.66 L227.66,321.32 L228.03,322.96 L228.39,324.60 L228.76,326.24 L229.13,327.86 L229.50,329.48 L229.87,331.09 L230.24,332.70 L230.61,334.29 L230.98,335.88 L231.35,337.46 L231.71,339.04 L232.08,340.60 L232.45,342.16 L232.82,343.71 L233.19,345.25 L233.56,346.78 L233.93,348.30 L234.30,349.82 L234.67,351.32 L235.04,352.82 L235.40,354.31 L235.77,355.79 L236.14,357.26 L236.51,358.72 L236.88,360.17 L237.25,361.61 L237.62,363.04 L237.99,364.46 L238.36,365.87 L238.72,367.28 L239.09,368.67 L239.46,370.05 L239.83,371.42 L240.20,372.78 L240.57,374.13 L240.94,375.48 L241.31,376.81 L241.68,378.12 L242.04,379.43 L242.41,380.73 L242.78,382.02 L243.15,383.29 L243.52,384.56 L243.89,385.81 L244.26,387.05 L244.63,388.28 L245.00,389.50 L245.36,390.71 L245.73,391.90 L246.10,393.09 L246.47,394.26 L246.84,395.42 L247.21,396.57 L247.58,397.70 L247.95,398.82 L248.32,399.94 L248.68,401.03 L249.05,402.12 L249.42,403.19 L249.79,404.26 L250.16,405.30 L250.53,406.34 L250.90,407.36 L251.27,408.37 L251.64,409.37 L252.01,410.35 L252.37,411.33 L252.74,412.28 L253.11,413.23 L253.48,414.16 L253.85,415.08 L254.22,415.98 L254.59,416.87 L254.96,417.75 L255.33,418.61 L255.69,419.46 L256.06,420.30 L256.43,421.12 L256.80,421.93 L257.17,422.73 L257.54,423.51 L257.91,424.28 L258.28,425.03 L258.65,425.77 L259.01,426.49 L259.38,427.20 L259.75,427.90 L260.12,428.58 L260.49,429.25 L260.86,429.90 L261.23,430.54 L261.60,431.16 L261.97,431.77 L262.33,432.36 L262.70,432.94 L263.07,433.51 L263.44,434.06 L263.81,434.59 L264.18,435.12 L264.55,435.62 L264.92,436.11 L265.29,436.59 L265.65,437.05 L266.02,437.50 L266.39,437.93 L266.76,438.34 L267.13,438.74 L267.50,439.13 L267.87,439.50 L268.24,439.86 L268.61,440.20 L268.97,440.52 L269.34,440.83 L269.71,441.12 L270.08,441.40 L270.45,441.67 L270.82,441.92 L271.19,442.15 L271.56,442.37 L271.93,442.57 L272.30,442.76 L272.66,442.93 L273.03,443.09 L273.40,443.23 L273.77,443.35 L274.14,443.46 L274.51,443.56 L274.88,443.64 L275.25,443.70 L275.62,443.75 L275.98,443.78 L276.35,443.80 L276.72,443.80 L277.09,443.79 L277.46,443.76 L277.83,443.71 L278.20,443.65 L278.57,443.58 L278.94,443.48 L279.30,443.38 L279.67,443.26 L280.04,443.12 L280.41,442.97 L280.78,442.80 L281.15,442.61 L281.52,442.41 L281.89,442.20 L282.26,441.97 L282.62,441.72 L282.99,441.46 L283.36,441.19 L283.73,440.90 L284.10,440.59 L284.47,440.27 L284.84,439.93 L285.21,439.58 L285.58,439.21 L285.94,438.83 L286.31,438.43 L286.68,438.02 L287.05,437.59 L287.42,437.15 L287.79,436.69 L288.16,436.22 L288.53,435.73 L288.90,435.23 L289.27,434.71 L289.63,434.18 L290.00,433.63 L290.37,433.07 L290.74,432.49 L291.11,431.90 L291.48,431.30 L291.85,430.68 L292.22,430.04 L292.59,429.39 L292.95,428.73 L293.32,428.05 L293.69,427.36 L294.06,426.65 L294.43,425.93 L294.80,425.19 L295.17,424.44 L295.54,423.68 L295.91,422.90 L296.27,422.11 L296.64,421.31 L297.01,420.49 L297.38,419.65 L297.75,418.81 L298.12,417.94 L298.49,417.07 L298.86,416.18 L299.23,415.28 L299.59,414.37 L299.96,413.44 L300.33,412.50 L300.70,411.54 L301.07,410.57 L301.44,409.59 L301.81,408.60 L302.18,407.59 L302.55,406.57 L302.91,405.54 L303.28,404.49 L303.65,403.43 L304.02,402.36 L304.39,401.28 L304.76,400.18 L305.13,399.07 L305.50,397.95 L305.87,396.82 L306.24,395.68 L306.60,394.52 L306.97,393.35 L307.34,392.17 L307.71,390.98 L308.08,389.77 L308.45,388.55 L308.82,387.33 L309.19,386.09 L309.56,384.84 L309.92,383.58 L310.29,382.30 L310.66,381.02 L311.03,379.72 L311.40,378.42 L311.77,377.10 L312.14,375.77 L312.51,374.44 L312.88,373.09 L313.24,371.73 L313.61,370.36 L313.98,368.98 L314.35,367.59 L314.72,366.19 L315.09,364.78 L315.46,363.36 L315.83,361.93 L316.20,360.49 L316.56,359.04 L316.93,357.58 L317.30,356.12 L317.67,354.64 L318.04,353.15 L318.41,351.66 L318.78,350.15 L319.15,348.64 L319.52,347.12 L319.88,345.59 L320.25,344.05 L320.62,342.50 L320.99,340.95 L321.36,339.39 L321.73,337.82 L322.10,336.24 L322.47,334.65 L322.84,333.05 L323.21,331.45 L323.57,329.84 L323.94,328.22 L324.31,326.60 L324.68,324.97 L325.05,323.33 L325.42,321.68 L325.79,320.03 L326.16,318.37 L326.53,316.71 L326.89,315.04 L327.26,313.36 L327.63,311.67 L328.00,309.98 L328.37,308.29 L328.74,306.58 L329.11,304.88 L329.48,303.16 L329.85,301.44 L330.21,299.72 L330.58,297.99 L330.95,296.25 L331.32,294.51 L331.69,292.77 L332.06,291.02 L332.43,289.27 L332.80,287.51 L333.17,285.74 L333.53,283.98 L333.90,282.21 L334.27,280.43 L334.64,278.65 L335.01,276.87 L335.38,275.08 L335.75,273.29 L336.12,271.50 L336.49,269.70 L336.85,267.90 L337.22,266.10 L337.59,264.30 L337.96,262.49 L338.33,260.68 L338.70,258.87 L339.07,257.05 L339.44,255.23 L339.81,253.41 L340.18,251.59 L340.54,249.77 L340.91,247.94 L341.28,246.12 L341.65,244.29 L342.02,242.46 L342.39,240.63 L342.76,238.80 L343.13,236.97 L343.50,235.13 L343.86,233.30 L344.23,231.47 L344.60,229.63 L344.97,227.80 L345.34,225.96 L345.71,224.13 L346.08,222.29 L346.45,220.46 L346.82,218.62 L347.18,216.79 L347.55,214.96 L347.92,213.13 L348.29,211.30 L348.66,209.47 L349.03,207.64 L349.40,205.81 L349.77,203.98 L350.14,202.16 L350.50,200.34 L350.87,198.52 L351.24,196.70 L351.61,194.88 L351.98,193.07 L352.35,191.25 L352.72,189.44 L353.09,187.64 L353.46,185.83 L353.82,184.03 L354.19,182.23 L354.56,180.44 L354.93,178.65 L355.30,176.86 L355.67,175.07 L356.04,173.29 L356.41,171.51 L356.78,169.74 L357.15,167.97 L357.51,166.21 L357.88,164.44 L358.25,162.69 L358.62,160.93 L358.99,159.19 L359.36,157.44 L359.73,155.71 L360.10,153.97 L360.47,152.25 L360.83,150.52 L361.20,148.81 L361.57,147.09 L361.94,145.39 L362.31,143.69 L362.68,141.99 L363.05,140.31 L363.42,138.62 L363.79,136.95 L364.15,135.28 L364.52,133.61 L364.89,131.96 L365.26,130.31 L365.63,128.67 L366.00,127.03 L366.37,125.40 L366.74,123.78 L367.11,122.16 L367.47,120.56 L367.84,118.96 L368.21,117.37 L368.58,115.78 L368.95,114.20 L369.32,112.64 L369.69,111.08 L370.06,109.52 L370.43,107.98 L370.79,106.44 L371.16,104.92 L371.53,103.40 L371.90,101.89 L372.27,100.39 L372.64,98.90 L373.01,97.42 L373.38,95.94 L373.75,94.48 L374.12,93.02 L374.48,91.58 L374.85,90.14 L375.22,88.72 L375.59,87.30 L375.96,85.89 L376.33,84.50 L376.70,83.11 L377.07,81.74 L377.44,80.37 L377.80,79.01 L378.17,77.67 L378.54,76.34 L378.91,75.01 L379.28,73.70 L379.65,72.40 L380.02,71.11 L380.39,69.83 L380.76,68.56 L381.12,67.30 L381.49,66.05 L381.86,64.82 L382.23,63.60 L382.60,62.38 L382.97,61.18 L383.34,60.00 L383.71,58.82 L384.08,57.65 L384.44,56.50 L384.81,55.36 L385.18,54.23 L385.55,53.12 L385.92,52.01 L386.29,50.92 L386.66,49.84 L387.03,48.78 L387.40,47.72 L387.76,46.68 L388.13,45.65 L388.50,44.64 L388.87,43.63 L389.24,42.65 L389.61,41.67 L389.98,40.71 L390.35,39.76 L390.72,38.82 L391.09,37.90 L391.45,36.99 L391.82,36.09 L392.19,35.21 L392.56,34.34 L392.93,33.48 L393.30,32.64 L393.67,31.81 L394.04,31.00 L394.41,30.19 L394.77,29.41 L395.14,28.64 L395.51,27.88 L395.88,27.13 L396.25,26.40 L396.62,25.69 L396.99,24.99 L397.36,24.30 L397.73,23.62 L398.09,22.97 L398.46,22.32 L398.83,21.69 L399.20,21.08 L399.57,20.48 L399.94,19.89 L400.31,19.32 L400.68,18.76 L401.05,18.22 L401.41,17.70 L401.78,17.18 L402.15,16.69 L402.52,16.20 L402.89,15.74 L403.26,15.28 L403.63,14.85 L404.00,14.43 L404.37,14.02 L404.73,13.63 L405.10,13.25 L405.47,12.89 L405.84,12.54 L406.21,12.21 L406.58,11.89 L406.95,11.59 L407.32,11.31 L407.69,11.04 L408.06,10.78 L408.42,10.54 L408.79,10.32 L409.16,10.11 L409.53,9.92 L409.90,9.74 L410.27,9.58 L410.64,9.43 L411.01,9.30 L411.38,9.18 L411.74,9.08 L412.11,8.99 L412.48,8.93 L412.85,8.87 L413.22,8.83 L413.59,8.81 L413.96,8.80 L414.33,8.81 L414.70,8.83 L415.06,8.87 L415.43,8.92 L415.80,8.99 L416.17,9.08 L416.54,9.18 L416.91,9.29 L417.28,9.42 L417.65,9.57 L418.02,9.73 L418.38,9.91 L418.75,10.10 L419.12,10.31 L419.49,10.53 L419.86,10.77 L420.23,11.03 L420.60,11.30 L420.97,11.58 L421.34,11.88 L421.70,12.20 L422.07,12.53 L422.44,12.87 L422.81,13.24 L423.18,13.61 L423.55,14.00 L423.92,14.41 L424.29,14.83 L424.66,15.27 L425.03,15.72 L425.39,16.19 L425.76,16.67 L426.13,17.16 L426.50,17.68 L426.87,18.20 L427.24,18.74 L427.61,19.30 L427.98,19.87 L428.35,20.45 L428.71,21.05 L429.08,21.67 L429.45,22.30 L429.82,22.94 L430.19,23.60 L430.56,24.27 L430.93,24.96 L431.30,25.66 L431.67,26.37 L432.03,27.10 L432.40,27.85 L432.77,28.61 L433.14,29.38 L433.51,30.16 L433.88,30.96 L434.25,31.78 L434.62,32.61 L434.99,33.45 L435.35,34.30 L435.72,35.17 L436.09,36.05 L436.46,36.95 L436.83,37.86 L437.20,38.78 L437.57,39.72 L437.94,40.67 L438.31,41.63 L438.67,42.61 L439.04,43.60 L439.41,44.60 L439.78,45.61 L440.15,46.64 L440.52,47.68 L440.89,48.73 L441.26,49.80 L441.63,50.88 L441.99,51.97 L442.36,53.07 L442.73,54.19 L443.10,55.32 L443.47,56.46 L443.84,57.61 L444.21,58.77 L444.58,59.95 L444.95,61.14 L445.32,62.34 L445.68,63.55 L446.05,64.77 L446.42,66.01 L446.79,67.25 L447.16,68.51 L447.53,69.78 L447.90,71.06 L448.27,72.35 L448.64,73.65 L449.00,74.96 L449.37,76.28 L449.74,77.62 L450.11,78.96 L450.48,80.32 L450.85,81.68 L451.22,83.06 L451.59,84.44 L451.96,85.84 L452.32,87.25 L452.69,88.66 L453.06,90.09 L453.43,91.52 L453.80,92.97 L454.17,94.42 L454.54,95.88 L454.91,97.36 L455.28,98.84 L455.64,100.33 L456.01,101.83 L456.38,103.34 L456.75,104.86 L457.12,106.39 L457.49,107.92 L457.86,109.46 L458.23,111.02 L458.60,112.58 L458.96,114.14 L459.33,115.72 L459.70,117.30 L460.07,118.89 L460.44,120.49 L460.81,122.10 L461.18,123.72 L461.55,125.34 L461.92,126.97 L462.29,128.60 L462.65,130.24 L463.02,131.89 L463.39,133.55 L463.76,135.21 L464.13,136.88 L464.50,138.56 L464.87,140.24 L465.24,141.93 L465.61,143.62 L465.97,145.32 L466.34,147.03 L466.71,148.74 L467.08,150.46 L467.45,152.18 L467.82,153.91 L468.19,155.64 L468.56,157.38 L468.93,159.12 L469.29,160.87 L469.66,162.62 L470.03,164.38 L470.40,166.14 L470.77,167.90 L471.14,169.67 L471.51,171.44 L471.88,173.22 L472.25,175.00 L472.61,176.79 L472.98,178.58 L473.35,180.37 L473.72,182.16 L474.09,183.96 L474.46,185.76 L474.83,187.57 L475.20,189.37 L475.57,191.18 L475.93,193.00 L476.30,194.81 L476.67,196.63 L477.04,198.44 L477.41,200.27 L477.78,202.09 L478.15,203.91 L478.52,205.74 L478.89,207.57 L479.26,209.39 L479.62,211.22 L479.99,213.05 L480.36,214.89 L480.73,216.72 L481.10,218.55 L481.47,220.39 L481.84,222.22 L482.21,224.06 L482.58,225.89 L482.94,227.72 L483.31,229.56 L483.68,231.39 L484.05,233.23 L484.42,235.06 L484.79,236.89 L485.16,238.73 L485.53,240.56 L485.90,242.39 L486.26,244.22 L486.63,246.05 L487.00,247.87 L487.37,249.70 L487.74,251.52 L488.11,253.34 L488.48,255.16 L488.85,256.98 L489.22,258.79 L489.58,260.61 L489.95,262.42 L490.32,264.23 L490.69,266.03 L491.06,267.83 L491.43,269.63 L491.80,271.43 L492.17,273.22 L492.54,275.01 L492.90,276.80 L493.27,278.58 L493.64,280.36 L494.01,282.14 L494.38,283.91 L494.75,285.68 L495.12,287.44 L495.49,289.20 L495.86,290.95 L496.23,292.70 L496.59,294.45 L496.96,296.19 L497.33,297.92 L497.70,299.65 L498.07,301.38 L498.44,303.09 L498.81,304.81 L499.18,306.52 L499.55,308.22 L499.91,309.92 L500.28,311.61 L500.65,313.29 L501.02,314.97 L501.39,316.64 L501.76,318.31 L502.13,319.97 L502.50,321.62 L502.87,323.27 L503.23,324.90 L503.60,326.54 L503.97,328.16 L504.34,329.78 L504.71,331.39 L505.08,332.99 L505.45,334.59 L505.82,336.17 L506.19,337.75 L506.55,339.33 L506.92,340.89 L507.29,342.44 L507.66,343.99 L508.03,345.53 L508.40,347.06 L508.77,348.58 L509.14,350.10 L509.51,351.60 L509.87,353.09 L510.24,354.58 L510.61,356.06 L510.98,357.53 L511.35,358.98 L511.72,360.43 L512.09,361.87 L512.46,363.30 L512.83,364.72 L513.20,366.13 L513.56,367.53 L513.93,368.92 L514.30,370.30 L514.67,371.67 L515.04,373.03 L515.41,374.38 L515.78,375.72 L516.15,377.05 L516.52,378.37 L516.88,379.67 L517.25,380.97 L517.62,382.25 L517.99,383.53 L518.36,384.79 L518.73,386.04 L519.10,387.28 L519.47,388.51 L519.84,389.72 L520.20,390.93 L520.57,392.12 L520.94,393.30 L521.31,394.47 L521.68,395.63 L522.05,396.78 L522.42,397.91 L522.79,399.03 L523.16,400.14 L523.52,401.24 L523.89,402.32 L524.26,403.39 L524.63,404.45 L525.00,405.50 L525.37,406.53 L525.74,407.55 L526.11,408.56 L526.48,409.55 L526.84,410.53 L527.21,411.50 L527.58,412.46 L527.95,413.40 L528.32,414.33 L528.69,415.25 L529.06,416.15 L529.43,417.04 L529.80,417.91 L530.17,418.77 L530.53,419.62 L530.90,420.45 L531.27,421.27 L531.64,422.08 L532.01,422.87 L532.38,423.65 L532.75,424.42 L533.12,425.17 L533.49,425.90 L533.85,426.62 L534.22,427.33 L534.59,428.02 L534.96,428.70 L535.33,429.37 L535.70,430.02 L536.07,430.65 L536.44,431.27 L536.81,431.88 L537.17,432.47 L537.54,433.05 L537.91,433.61 L538.28,434.16 L538.65,434.69 L539.02,435.21 L539.39,435.71 L539.76,436.20 L540.13,436.67 L540.49,437.13 L540.86,437.58 L541.23,438.00 L541.60,438.42 L541.97,438.82 L542.34,439.20 L542.71,439.57 L543.08,439.92 L543.45,440.26 L543.81,440.58 L544.18,440.89 L544.55,441.18 L544.92,441.45 L545.29,441.71 L545.66,441.96 L546.03,442.19 L546.40,442.41 L546.77,442.61 L547.14,442.79 L547.50,442.96 L547.87,443.11 L548.24,443.25 L548.61,443.37 L548.98,443.48 L549.35,443.57 L549.72,443.65 L550.09,443.71 L550.46,443.75 L550.82,443.78 L551.19,443.80 L551.56,443.80 L551.93,443.78 L552.30,443.75 L552.67,443.70 L553.04,443.64 L553.41,443.56 L553.78,443.47 L554.14,443.36 L554.51,443.23 L554.88,443.09 L555.25,442.94 L555.62,442.76 L555.99,442.58 L556.36,442.38 L556.73,442.16 L557.10,441.93 L557.46,441.68 L557.83,441.41 L558.20,441.14 L558.57,440.84 L558.94,440.53 L559.31,440.21 L559.68,439.87 L560.05,439.51 L560.42,439.14 L560.78,438.76 L561.15,438.36 L561.52,437.94 L561.89,437.51 L562.26,437.07 L562.63,436.61 L563.00,436.13 L563.37,435.64 L563.74,435.14 L564.11,434.62 L564.47,434.08 L564.84,433.53 L565.21,432.97 L565.58,432.39 L565.95,431.79 L566.32,431.18 L566.69,430.56 L567.06,429.92 L567.43,429.27 L567.79,428.60 L568.16,427.92 L568.53,427.23 L568.90,426.52 L569.27,425.80 L569.64,425.06 L570.01,424.30 L570.38,423.54 L570.75,422.76 L571.11,421.96 L571.48,421.16 L571.85,420.33 L572.22,419.50 L572.59,418.65 L572.96,417.78 L573.33,416.91 L573.70,416.02 L574.07,415.11 L574.43,414.20 L574.80,413.26 L575.17,412.32 L575.54,411.36 L575.91,410.39 L576.28,409.41 L576.65,408.41 L577.02,407.40 L577.39,406.38 L577.75,405.35 L578.12,404.30 L578.49,403.24 L578.86,402.16 L579.23,401.08 L579.60,399.98 L579.97,398.87 L580.34,397.75 L580.71,396.61 L581.08,395.46 L581.44,394.30 L581.81,393.13 L582.18,391.95 L582.55,390.75 L582.92,389.55 L583.29,388.33 L583.66,387.10 L584.03,385.86 L584.40,384.61 L584.76,383.34 L585.13,382.07 L585.50,380.78 L585.87,379.48 L586.24,378.18 L586.61,376.86 L586.98,375.53 L587.35,374.19 L587.72,372.84 L588.08,371.48 L588.45,370.10 L588.82,368.72 L589.19,367.33 L589.56,365.93 L589.93,364.52 L590.30,363.10 L590.67,361.66 L591.04,360.22 L591.40,358.77 L591.77,357.31 L592.14,355.84 L592.51,354.37 L592.88,352.88 L593.25,351.38 L593.62,349.88 L593.99,348.36 L594.36,346.84 L594.72,345.31 L595.09,343.77 L595.46,342.22 L595.83,340.66 L596.20,339.10 L596.57,337.52 L596.94,335.94 L597.31,334.36 L597.68,332.76 L598.05,331.16 L598.41,329.54 L598.78,327.93 L599.15,326.30 L599.52,324.67 L599.89,323.03 L600.26,321.38 L600.63,319.73 L601.00,318.07 L601.37,316.40 L601.73,314.73 L602.10,313.05 L602.47,311.36 L602.84,309.67 L603.21,307.97 L603.58,306.27 L603.95,304.56 L604.32,302.84 L604.69,301.12 L605.05,299.40 L605.42,297.67 L605.79,295.93 L606.16,294.19 L606.53,292.45 L606.90,290.70 L607.27,288.94 L607.64,287.18 L608.01,285.42 L608.37,283.65 L608.74,281.88 L609.11,280.10 L609.48,278.32 L609.85,276.54 L610.22,274.75 L610.59,272.96 L610.96,271.17 L611.33,269.37 L611.69,267.57 L612.06,265.77 L612.43,263.96 L612.80,262.16 L613.17,260.34 L613.54,258.53 L613.91,256.72 L614.28,254.90 L614.65,253.08 L615.02,251.26 L615.38,249.43 L615.75,247.61 L616.12,245.78 L616.49,243.95 L616.86,242.12 L617.23,240.29 L617.60,238.46 L617.97,236.63 L618.34,234.80 L618.70,232.96 L619.07,231.13 L619.44,229.29 L619.81,227.46 L620.18,225.62 L620.55,223.79 L620.92,221.95 L621.29,220.12 L621.66,218.29 L622.02,216.45 L622.39,214.62 L622.76,212.79 L623.13,210.96 L623.50,209.13" stroke="#000" stroke-width="2.7" stroke-dasharray="2.7 2.3"/>
</g>
<g stroke="#555555" stroke-width="1" fill="none" shape-rendering="crispEdges">
<rect x="70.5" y="9.5" width="553.0" height="435.0"/>
<line x1="139.5" y1="444.5" x2="139.5" y2="439.0"/>
<line x1="139.5" y1="9.5" x2="139.5" y2="15.0"/>
<line x1="208.5" y1="444.5" x2="208.5" y2="439.0"/>
<line x1="208.5" y1="9.5" x2="208.5" y2="15.0"/>
<line x1="277.5" y1="444.5" x2="277.5" y2="439.0"/>
<line x1="277.5" y1="9.5" x2="277.5" y2="15.0"/>
<line x1="346.5" y1="444.5" x2="346.5" y2="439.0"/>
<line x1="346.5" y1="9.5" x2="346.5" y2="15.0"/>
<line x1="416.5" y1="444.5" x2="416.5" y2="439.0"/>
<line x1="416.5" y1="9.5" x2="416.5" y2="15.0"/>
<line x1="485.5" y1="444.5" x2="485.5" y2="439.0"/>
<line x1="485.5" y1="9.5" x2="485.5" y2="15.0"/>
<line x1="554.5" y1="444.5" x2="554.5" y2="439.0"/>
<line x1="554.5" y1="9.5" x2="554.5" y2="15.0"/>
<line x1="70.5" y1="299.5" x2="76.0" y2="299.5"/>
<line x1="70.5" y1="154.5" x2="76.0" y2="154.5"/>
<line x1="624.0" y1="9.5" x2="618.0" y2="9.5" stroke="#111" stroke-width="1.2"/>
<line x1="624.0" y1="226.5" x2="618.0" y2="226.5" stroke="#111" stroke-width="1.2"/>
</g>
<g stroke="#000" stroke-width="2.0" fill="#000">
<line x1="413.5" y1="16.6" x2="413.5" y2="85.3"/>
<line x1="417.5" y1="89.3" x2="442.5" y2="89.3"/>
</g>
<g fill="#000">
<path d="M413.5,12.6 l-3.6,6.8 l7.2,0 z"/>
<path d="M413.5,89.3 l-3.6,-6.8 l7.2,0 z"/>
<path d="M413.5,89.3 l6.8,-3.6 l0,7.2 z"/>
<path d="M446.5,89.3 l-6.8,-3.6 l0,7.2 z"/>
</g>
</svg>
<div class="t xt" style="left:70.5px">0</div>
<div class="t xt" style="left:139.6px">24</div>
<div class="t xt" style="left:208.8px">48</div>
<div class="t xt" style="left:277.9px">72</div>
<div class="t xt" style="left:347.0px">96</div>
<div class="t xt" style="left:416.1px">120</div>
<div class="t xt" style="left:485.2px">144</div>
<div class="t xt" style="left:554.4px">168</div>
<div class="t xt" style="left:623.5px">192</div>
<div class="t yt" style="top:9.7px">1</div>
<div class="t yt" style="top:154.7px">0.5</div>
<div class="t yt" style="top:299.7px">0</div>
<div class="t yt" style="top:444.7px">-0.5</div>
<div class="t rt" style="top:9.2px">60</div>
<div class="t rt" style="top:226.7px">50</div>
<div class="t rt" style="top:444.2px">40</div>
<div class="lg" style="top:16.5px;color:#50B8E4">No lining</div>
<div class="lg" style="top:43.6px;color:#E0672F">Benchmark</div>
<div class="lg" style="top:71.9px;color:#E2BA48">Aged lining</div>
<div class="lg" style="top:95.6px;color:#C648F8">Thick paint</div>
<div class="an" style="left:317px;top:46.8px">dampening</div>
<div class="an" style="left:407px;top:95.3px">delay</div>
<div class="al" style="left:346.3px;top:479.5px;transform:translateX(-50%)">Time (Hours)</div>
<div class="al" style="left:11.9px;top:225.9px;transform:translate(-50%,-50%) rotate(-90deg)">Normalised <span style="margin-left:1.2px;letter-spacing:2.6px;font-size:106%;line-height:0;-webkit-text-stroke:0">&Delta;</span>c</div>
<div class="al" style="left:670px;top:226.5px;transform:translate(-50%,-50%) rotate(-90deg);color:#000">RH (%)</div>
</div></body></html>
